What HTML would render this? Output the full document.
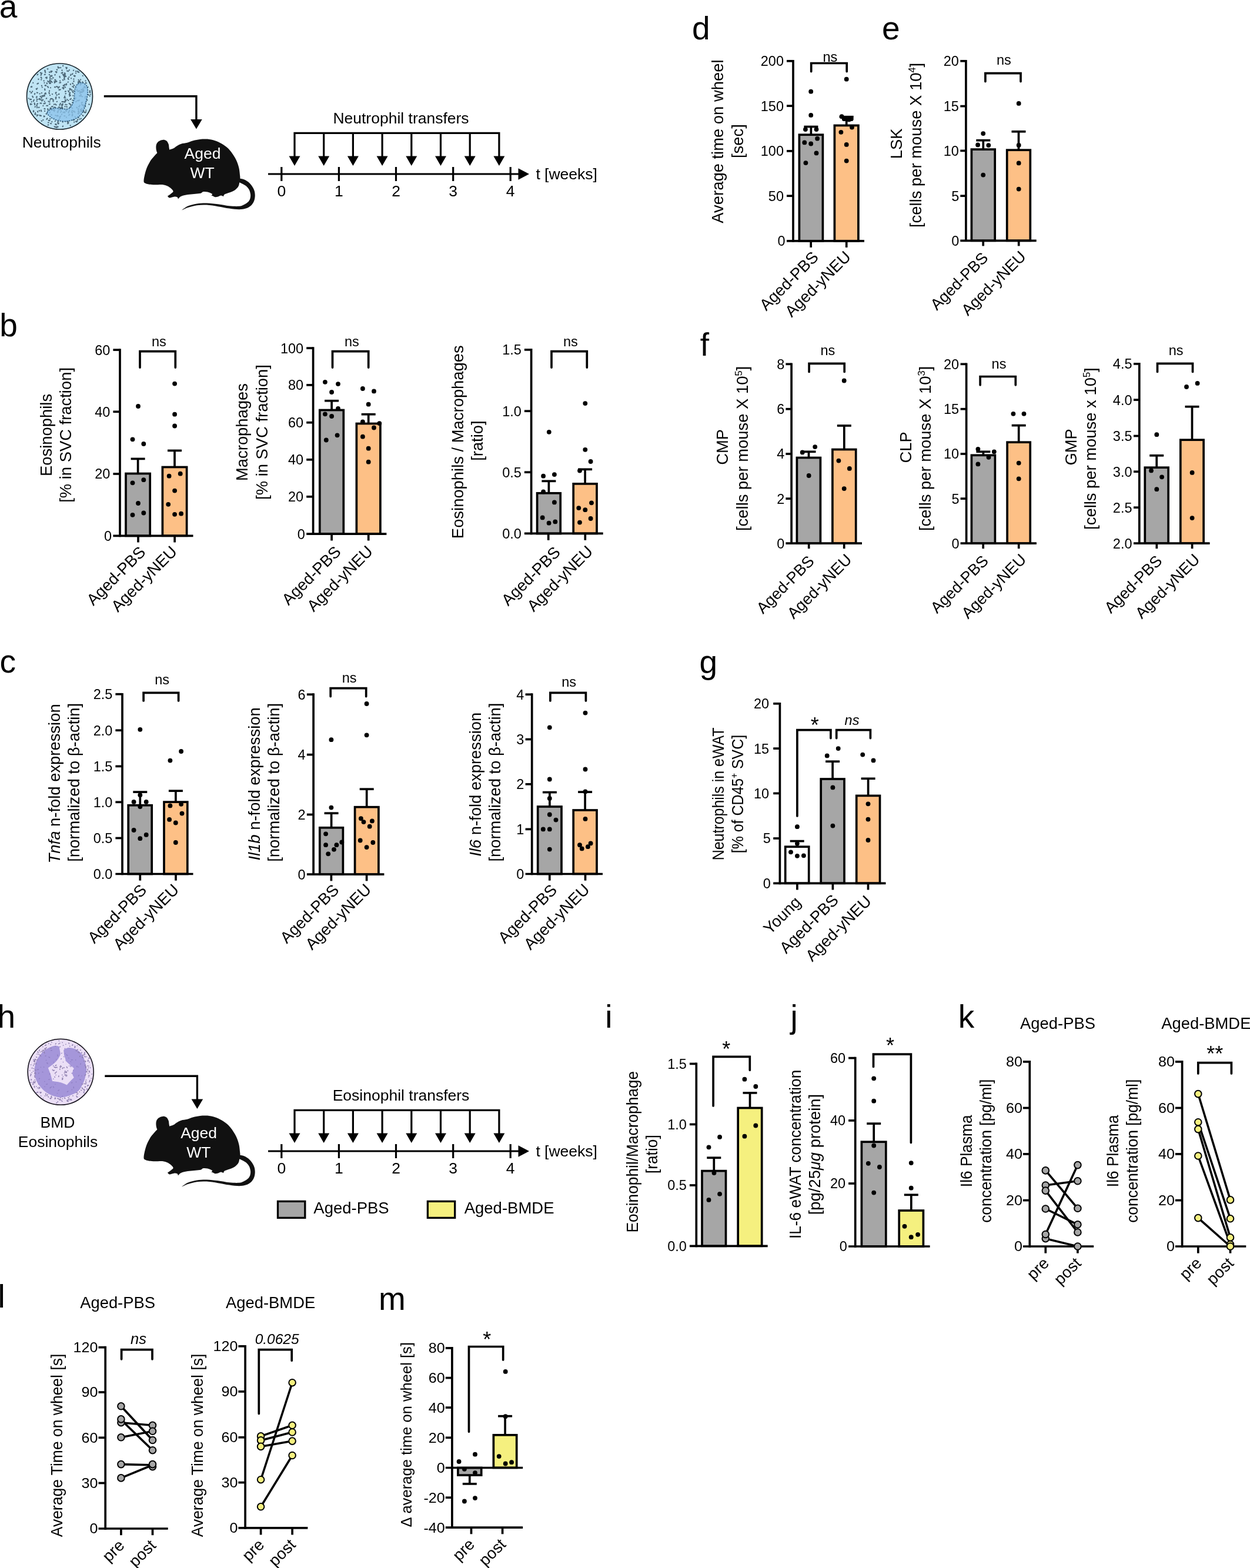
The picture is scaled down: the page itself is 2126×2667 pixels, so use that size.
<!DOCTYPE html>
<html lang="en">
<head>
<meta charset="utf-8">
<title>Figure</title>
<style>
html,body{margin:0;padding:0;background:#fff;}
body{width:2126px;height:2667px;overflow:hidden;}
svg{display:block;}
svg text{font-family:"Liberation Sans",Arial,Helvetica,sans-serif;fill:#000;stroke:none;}
</style>
</head>
<body>
<svg width="2126" height="2667" viewBox="0 0 2126 2667">
<g stroke="#000" stroke-width="3.7" fill="none">
<circle cx="101.5" cy="164" r="56" fill="#bfe4f4" stroke="#16232b" stroke-width="1.6"/>
<path d="M92.3 182.4l-0.1 0.2M108.5 149.3l-0.5 1.9M104.9 179.2l0.1 0.4M130.6 182.6l-0.2 0.1M141.3 150.4l-0.1 0.2M71.9 148.5l-0.2 0M83.4 157.3l0.5 1.9M123.2 183.8l-0.3 0.2M133.4 188.2l0.2 0.1M88.8 160.1l0.4 0.1M62.8 164.9l-0.9 0.8M70.8 145.7l0.2 0.3M93.2 139.1l-0.5 1.9M70.4 164.9l0.3 2M119.6 161.7l0.2 0.8M122.9 194.2l0.2 0M105.2 124l-0.7 0.3M84.7 190.5l0 1.2M116.2 170.8l0.1 0.1M142.7 180.5l-0.5 1.1M94.4 196.1l-0.1 0.2M130.9 152.5l-0.4 1.1M144.8 180.8l0.4 0.2M60.8 194.4l0 0.4M64.2 176.3l-1.1 0.4M119.8 142.9l0.2 0.8M88.1 134.2l0.1 0.1M112.9 186.8l0.9 0.8M112.5 144.2l0.3 0.3M73.4 179.7l-0.1 0.4M87.6 128.6l-0.1 0.2M53.8 177.3l-2 0.3M75.4 184.9l1.1 0.4M114.2 169.2l0.3 0.2M133.1 190.2l1.9 0.6M111.3 177.7l0.1 0.2M123.3 174.3l0.3 0.7M141 152.6l0 0.2M132.2 121.1l0.1 1.2M93.9 182.6l-0.6 0.6M57.8 169.9l0 0.4M138.2 152.3l1.8 0.9M141.1 140.3l0.1 0.2M92.5 138.4l0.2 0.4M86.1 183.7l-0.3 2M89.5 186l-0.3 0.2M118 119l-0.3 0.3M113 199.4l-0.1 0.1M110.6 128.7l1.6 1.1M135.6 154.4l-0.8 0.2M132.2 155.1l0.3 0.3M71.2 169.8l0.1 2M121.2 133.1l-0.1 0.2M110.8 148.2l0.1 0.4M79.3 167.1l-0.6 0.5M145.6 190.7l-0.8 0.9M59.5 193.9l-0.3 0.3M110.3 163.6l-0.3 1.2M108.5 145l-1 0.6M84.2 137.8l-0.1 0.4M148.4 170.3l-0.1 0.2M51 155.5l0.1 0.4M112.7 142.4l0.6 0.6M55.2 163.7l1 1.7M84.7 173.3l-0.8 0.2M136 138.1l-1.7 1.1M56.9 188.3l0 2M123.4 194.9l-0.4 0.2M65.2 134.6l0.4 0.2M57 171.5l-0.1 0.8M85.6 128.8l0 0.2M110.9 155.5l0.2 0.1M106.7 126.6l0 0.2M62.6 178.5l0 2M110.2 190.5l0 1.2M75.1 162.7l-0.1 0.8M145.8 140.6l1 0.7M113.5 178l0 0.2M85 133.5l0.6 0.5M112.1 114.9l0.7 0.4M132.5 203l-0.4 0M101.1 147.7l-0.4 0.1M149.7 160.9l1 0.6M135.1 162.7l0.2 0.8M82.7 204.9l2 0.1M58.5 175.4l0.7 1.9M74.5 137.4l0.4 0.1M118.4 161l0.1 0.1M120.2 151.4l-0.9 0.8M127 128.7l-1.2 0.2M131.5 205l-0.2 0.8M112.2 170.8l-0.7 1M123.2 147.2l0.2 0M106.4 149.5l-0.2 0.1M99.8 182.4l2 0.1M57.4 189l-0.1 0.2M76 159.6l0.4 0.1M99.8 186.5l-0.8 0.2M77.9 159.3l0.1 0.4M95.4 211.1l-0.2 0M146.7 168.4l-0.1 0.4M75.3 161.7l0.2 1.2M79.8 131.4l-1.9 0.7M92.8 187l0.3 0.3M123.5 125.3l-0.5 1.1M153.9 160.5l-0.2 0.1M142.7 183.6l0.3 0.3M142.1 178.7l0.7 1.9M88 139.3l0.6 0.6M123.4 170.4l0.1 0.1M97.2 215.8l-2 0.2M97.1 172.8l-0.4 0.1M100.4 165.4l0.4 1.1M93.7 206.2l0.1 0.1M141.8 189.9l1.8 0.9M109.2 166.1l0.2 0.3M146.2 190.3l-0.4 0.2M76.9 126.5l-1.1 0.4M105.5 119.2l0 0.8M94.6 122l2 0.3M69.9 131.4l-0.3 0.2M140.3 139.3l0 0.2M120.2 128.1l-0.4 0.1M110.8 169.5l-0.1 0.2M76 188.9l0.2 0M70.8 132.8l0 0.2M88 167.7l-2 0.4M133.7 185l-0.8 0.9M101.3 178.5l0.3 0.3M106.6 206.4l0.1 1.2M146.3 187.4l0.1 0.2M70 135.5l0.4 0.1M80.5 201.3l-1.1 1.6M96.1 161.6l0.8 0.2M118 161.1l0.9 0.8M91.8 200.8l0.1 1.2M107.2 111.5l-0.1 0.8M152.3 157l1.2 0.1M134.9 181.4l-0.8 0M63 197.1l-0.2 0M84.1 154.2l-0.1 0.8M133.8 199.5l0 0.2M94.1 139.6l-1.1 0.4M84.9 177l-1.2 0.2M64 189.3l0.3 1.2M81.9 208.5l0.8 0M111.2 148.4l-0.2 0M124.7 147.5l0.5 1.1M63.4 195.5l1.2 0.3M103.2 115l0.1 0.2M115.9 139.6l-0.4 0.1M135.9 157.7l0.4 0.7M109.1 130.2l1.2 0.1M145.5 137.4l0 0.2M144.7 177.9l0.1 0.4M84 141.6l2 0.3M126.9 190.1l0.4 0.7M99.8 209.5l-0.6 1.1M85.3 139.9l-0.2 1.2M132.5 193l1.9 0.5M132.5 143.2l0.6 0.5M137 163.2l0.4 0.2M102.3 186.1l-0.1 0.8M103.3 190.9l0 0.2M101.4 129.9l0.5 1.9M108.3 190.7l-0.9 0.8M92.5 215.4l1.8 0.8M55.2 155.4l-0.2 0.1M98 190.2l0.4 1.1M74.6 176.3l-0.2 0.1M125.6 188.8l-0.9 0.8M137.8 156.7l1.9 0.5M133.6 122.8l0.1 0.1M104.9 184.4l-0.2 0M143.5 147.8l-0.5 1.1M141.7 187.8l0.4 0M107 214.5l-0.4 0.7M142.3 154.2l-0.1 1.2M95.8 147.2l2 0.4M123.2 155.9l1.4 1.5M140.3 164.3l-0.8 0M142.6 153.1l-1.1 0.4M62.8 157.6l1.2 0.1M93.2 135.8l1.2 0.1M133.4 135.8l0.4 0.1M76.2 119.7l0.2 0.1M86.5 121.7l0.5 1.1M116.6 208.8l-1.4 1.5M135.5 179.3l0.3 0.2M104.5 188.8l-0.6 0.5M133.9 190.5l-0.1 0.4M51.1 168.7l2 0.4M121.6 190.4l1.6 1.2M109.1 173.4l1.2 0.2M59 177.9l0.1 0.2M152.6 163.2l0.2 0.3M79.4 132.6l0.1 0.8M84.8 136l0.3 0.7M85.1 170.2l0.2 0M70.6 205.6l0.4 0.2M67.6 195.8l0.7 1M139.4 187.3l1.6 1.2M121.9 152.7l0.5 1.1M134.8 170.4l-1 0.7M111.1 166.5l0.2 0M99.5 209.8l-0.8 0.3M81.5 187.3l-0.2 0M98.1 208.7l0.4 0.7M88.3 207l-0.1 0.2M126.8 167.9l0.1 1.2M133.1 154.6l0.8 0.9M109.1 146.3l0 0.2M116.3 120.9l-0.3 0.2M77.8 145.1l0.4 0.7M110.1 124l0 1.2M102 137.6l0.2 0M62.6 168.5l1.1 0.6M140.7 128.8l0.1 0.1M110.4 197.2l-1.2 0M110.5 181.1l0 0.4M100.9 115.2l-0.1 0.2M106.8 135.8l0.5 0.6M69.7 196.6l0.3 0.2M111.6 187.6l1.3 1.5M106.6 176.5l0.3 0.3M76 162.8l-1 0.7M118.4 163l0 0.4M128.8 121.3l0.8 0.1M102.8 175.8l-0.6 1.9M106.5 177.6l0 0.4M75.8 172.5l-0.2 0.1M133.7 189.2l-0.1 0.4M131.5 171.2l0.8 0.1M145.5 174.8l-0.2 0.1M115.7 133.2l0.8 1.8M92.4 186.1l-1.6 1.2M67.8 167.5l-1.6 1.2M123.3 196l-0.6 1.1M90.1 132l0.5 0.6M91 169.9l-0.6 0.6M95.3 167.7l-0.6 0.5M81.1 137.9l0.1 0.2M82.3 172.4l0.2 0.1M60.1 191.7l0 0.4M109.7 172.8l1.1 0.5M136.9 186.2l0.8 1.8M116.3 191.6l0.3 0.2M117.1 156.1l0 0.4M86 210l1.2 0.2M85.2 202l-0.1 0.2M135.9 140.4l-0.3 0.2M70.3 126.1l-0.7 1.9M128.9 124.3l0.3 0.2M151.1 177.3l0.7 0.4M120.3 182.4l-0.3 0.3M139.9 174.1l-0.1 0.1M86.6 137.7l0.4 1.1M61.6 151l0.7 1M92 188.7l0.3 0.8M68.3 175.5l2 0.1M137.5 160.9l0.3 2M108.2 128.8l1 0.6M90.4 172l0.3 0.7M131 183.2l0 0.2M120 168.8l-0.8 0.2M108 126.7l2 0.3M135.3 137.7l-0.2 0.1M134.4 122.6l-0.1 0.1M119.7 213.3l0 0.4M83.9 122.6l0.6 0.5M81 147l1.1 1.7M94 211.3l1.8 0.9M137.3 155.8l-0.6 1.9M71.6 162.9l0.4 0M66.7 188.1l0.5 0.6M118.7 150.7l-0.2 0.1M102.8 152.4l-1.1 0.5M63.5 150.3l-0.2 0.1M101 202.8l-0.7 0.3M96.6 216.5l-0.2 0.8M94.1 177.2l1.5 1.3M101 152.4l-0.7 0.4M82.3 212.4l-0.7 0.3M96.6 118.4l0.6 0.5M75.5 140.8l0 0.2M118.5 182.6l-0.1 0.2M139.1 177.4l1.2 1.6M85.8 183.6l-0.5 1.9M122.9 187.9l-0.3 0.2M135.5 202.4l0.3 0.3M88.7 168.1l0.7 0.4M79.2 179.7l2 0.1M133.4 138.5l-0.5 1.9M143.4 146.5l0.1 0.1M138.7 174.5l0.1 0.4M128.8 206.6l1.9 0.6M52.7 147.8l0.4 0.2M59.3 159.1l-0.5 1.1M110.1 143.6l0.5 0.7M64.3 126.4l-0.8 0.9M100.6 159.9l-1.1 0.6M139 184.8l0.2 0.1M98.4 206.4l0.7 0.3M95 137.5l-0.2 1.2M81.5 117.3l-0.8 0.1M68.8 123.5l1.6 1.3M128.4 166.6l0.3 0.3M144.5 148.4l0.6 1M89.2 186.8l-1.9 0.6M53.8 173.2l-0.1 0.2M59.8 181.3l-0.2 0.8M109.6 131.8l-0.5 1.9M118.6 153.3l0.2 0M86.1 149.2l-0.2 0M120.8 167.8l-0.1 0.2M86.6 121l2 0.4M103.2 140.4l-2 0.3M112 155.4l-1.1 0.5M120.3 179l0.2 0.1M149.5 148.1l-0.1 0.1M120.6 126.5l0.1 0.2M133.2 198.9l-0.4 0.7M87 195.3l0.8 0.1M112 159l-0.6 0.5M106.4 123.2l0.1 0.8M94.6 157.7l0.3 1.2M85 162.1l0 0.2M77.5 158.2l-0.2 0.1M76.1 151.2l0.4 2M115.2 208.2l-0.2 0M92 177.4l-0.2 0.3M141.4 155.6l-2 0.3M98.1 215.4l0.3 0.3M125.1 154.4l0.2 0.1M48.8 167.2l0 0.2M79.6 141.2l0.4 1.1M137.1 135.2l0 0.2M81.2 185l0.4 1.9M68.8 163.8l-0.4 0.1M119.2 157.5l-0.6 1.9M82.5 139.1l0.2 0.3M125.5 137.8l-0.1 0.8M118.5 194.7l-1.5 1.3M105.1 194.4l-0.2 0.4M74.1 162.7l-1.4 1.4M113.3 181.3l0.6 0.6M76.5 145.1l0.3 0.3M98.7 215.7l-0.4 0M117.9 160l0.1 0.4M114.1 120.4l0.1 0.4M140.6 196.1l0.8 0.9M95.7 165.3l-1.1 0.5M88.4 128.8l-0.5 1.1M128.1 167.7l-0.1 0.1M98.6 113.6l0.4 2M65.1 141.7l-1.8 0.9M127.7 129l-0.5 1.1M76.9 175.1l-0.7 1M103.1 197.5l-0.2 0.3M101.5 198.5l0.3 2M125.5 134.4l-0.2 0.3M125.4 145.3l1.2 0M116 154.6l0.3 0.3M126.4 203.7l-2 0.4M73.3 203.8l0.1 0.4M93.7 126.9l-0.3 0.7M67.8 159.4l-0.4 0.1M124.2 162.6l0 0.2M96 122.8l-0.3 0.7M96.4 197.1l1.2 0.1M137.7 142.7l-1 1.7M99.1 189l-1.4 1.5M153.5 154.6l-1.2 0.1M106 182.5l-0.3 0.3M62.5 171.6l0.3 0.3M75.9 197.8l-1 0.6M73.3 169.7l-0.1 0.4M108.3 128.3l-0.3 0.3M97.9 196.3l0.8 0.9M85.6 130.8l-0.7 0.5M74.6 197.4l0.6 1M63.4 182.4l-0.4 0.7M118.2 187.9l0.1 0.2M125.2 119.5l-0.3 0.3M70.9 158l-0.1 0.2M105 177.8l1.2 1.6M117.6 175.9l0.9 0.8M89.7 181l-1.9 0.6M126.2 207.5l-0.1 0.2M76.9 120.3l-0.6 0.5M115.8 205.7l-0.1 1.2M92.9 148l1.1 0.4M103.4 183.7l0 0.2M51.3 168.9l-0.2 0.3M62.6 164.4l-0.2 0.1M117.5 189.4l-0.7 1M76.8 122.1l0.5 1.1M145.1 164l0.7 0.4M95.6 157.2l-0.3 0.8M107.3 148.8l0 0.4M145.4 173.5l-0.3 0.7M137.2 188.1l1 1.8M53.8 147.1l0.5 0.6M66.6 182.5l-0.7 0.4M78.6 193.4l0.4 0.7M123.2 141.7l1 0.7M109.4 134.6l0.4 0.7M137.8 201.6l0.2 0.1M69.7 187.4l0.6 1.9M129.1 172.9l0.4 0M117.4 131.1l-0.1 0.1M113.8 115l-0.7 1.9M127.7 198.7l-0.1 0.2M111.6 206.1l0.1 0.4M119.6 177.4l0.2 0M138.3 141.9l0.2 0.4M110.5 125.3l0.6 0.6M105.4 173l2 0.1M69.3 124.2l2 0.3M53.8 157.3l-0.9 0.8M56.3 140.8l0 0.2M84.1 127l-0.4 0M67.9 169.2l1.1 0.4M106.3 184.1l0.2 0M144.8 166.5l-0.2 0M105.1 182.1l0.1 0.8M96.5 138.4l-0.3 0.3M129.8 149l-0.3 0.3M99.5 148.7l-0.5 1.1M51.9 176.5l0.1 0.1" stroke="#4d6878" stroke-width="2.1" stroke-linecap="round"/>
<path d="M80.3 191C79.5 193.5 83.1 196.7 85.8 198.9C88.6 201.1 92.4 203.2 97 204.5C101.7 205.7 108.2 207 113.8 206.3C119.4 205.7 126 203.4 130.5 200.8C135 198.1 138.1 195 140.8 190.5C143.4 186 145 179.4 146.3 173.8C147.7 168.2 149 161.7 149.1 157C149.3 152.4 148.8 148.6 147.3 145.8C145.7 143.1 142.3 141.3 139.8 140.7C137.3 140.2 134.4 141 132.4 142.6C130.4 144.2 128.7 146.9 127.7 150.5C126.7 154.1 127 160.1 126.3 164.5C125.6 168.8 125.2 173.1 123.5 176.6C121.9 180 119.7 183.5 116.6 184.9C113.4 186.3 108.8 185.1 104.5 184.9C100.1 184.8 94.5 183 90.5 184C86.5 185 81 188.5 80.3 191Z" fill="#8cc3eb" stroke="#2a587c" stroke-width="1.5" stroke-dasharray="2.4 1.5" fill-opacity="0.78"/>
<text x="104.7" y="251" text-anchor="middle" font-size="26.5">Neutrophils</text>
<path d="M176.8 163.8H333.9V205.6" stroke-width="3.4"/>
<path d="M324.1 203.1L343.7 203.1L333.9 219.6Z" fill="#000" stroke="none" stroke="none"/>
<path d="M244.5 308.3C244.4 306.1 245.1 301.9 246 298.1C246.9 294.2 248.1 289.4 249.8 285.3C251.5 281.1 254 276.6 256.2 273.1C258.5 269.6 261.7 266.3 263.5 264.2C265.4 262 266.7 261 267.4 260.3C267.1 259.2 265.8 256.3 265.6 253.9C265.3 251.6 265.2 248.5 265.8 246.2C266.5 244 267.9 241.9 269.7 240.5C271.5 239.1 274.5 238.1 276.7 237.9C279 237.7 281.5 238.3 283.1 239.5C284.8 240.6 285.8 243 286.6 245C287.3 246.9 287.3 249.7 287.6 251.4C287.9 253 288.1 254.2 288.2 254.8C289.3 254.4 292.5 253.7 294.6 252.6C296.8 251.5 298.8 249.5 301 248.2C303.3 246.8 305.2 245.6 308.1 244.7C310.9 243.8 314.9 243.7 318.3 242.8C321.7 241.9 324.9 240.2 328.5 239.2C332.2 238.2 336 237.3 340.1 236.9C344.1 236.5 348.6 236.3 352.9 236.6C357.1 237 361.6 237.9 365.7 239.2C369.7 240.5 373.4 242.3 377.2 244.6C380.9 246.8 384.9 249.6 388.1 252.6C391.3 255.7 393.9 259.2 396.4 262.9C398.8 266.5 401.1 270.4 402.8 274.4C404.5 278.3 405.7 282.4 406.6 286.6C407.5 290.7 407.8 296.5 408.2 299.3C408.5 302.2 408.5 303.1 408.5 303.8C409.7 304.1 412.9 304.2 415.6 305.5C418.2 306.8 421.9 308.8 424.5 311.5C427.2 314.2 430 318.4 431.6 321.7C433.1 325.1 433.6 328 433.7 331.3C433.9 334.6 433.3 338.6 432.2 341.6C431.1 344.6 429.4 347.3 427.1 349.5C424.7 351.7 421.5 353.5 418.1 354.6C414.7 355.8 411.3 356.3 406.6 356.3C401.9 356.3 395.9 355.5 390 354.6C384 353.8 377.2 352.2 370.8 351.2C364.4 350.2 357.6 348.9 351.6 348.6C345.6 348.3 340.3 348.5 334.9 349.3C329.6 350 324 351.7 319.6 353.1C315.2 354.6 310.2 357.2 308.3 358C310.2 356.7 315.2 352.5 319.6 350.5C324 348.6 329.6 347.3 334.9 346.4C340.3 345.6 345.6 345.3 351.6 345.4C357.6 345.6 364.4 346.5 370.8 347.3C377.2 348.2 384 349.7 390 350.3C395.9 350.9 402.6 351.1 406.6 350.8C410.7 350.5 411.8 349.7 414.3 348.6C416.7 347.5 419.5 345.8 421.3 344.1C423.1 342.4 424.4 340.5 425.2 338.4C426 336.2 426.3 333.9 426.1 331.3C425.9 328.8 425.1 325.5 423.9 323C422.7 320.6 420.7 318.3 418.8 316.6C416.9 314.9 414.3 313.9 412.4 312.8C410.5 311.7 408.1 310.7 407.3 310.2C406.9 311.4 406.7 315 405.3 317.3C403.9 319.5 401.7 321.9 398.9 323.7C396.2 325.5 391.6 327 388.7 328.1C385.8 329.3 383.1 329.7 381.7 330.7C380.2 331.7 380.3 333.7 380 334.3C379.3 334 377.4 332.6 375.9 332.6C374.4 332.7 372.5 334.1 370.8 334.5C369.1 335 367.2 335.4 365.7 335.2C364.2 335 362.9 333.7 361.8 333.3C360.8 332.8 359.7 332.7 359.3 332.6C359.5 332.2 361.9 330.8 360.8 329.8C359.7 328.8 355.5 327.1 352.9 326.5C350.3 325.9 347.1 325.8 345.2 326.2C343.3 326.6 343.5 328.2 341.3 328.8C339.2 329.4 335.6 329.5 332.4 329.8C329.2 330.1 325.6 330.3 322.1 330.7C318.7 331.1 314.5 331.7 311.9 332.4C309.3 333 308.3 333.5 306.8 334.5C305.3 335.5 303.6 337.7 302.9 338.4C302.7 337.8 302.5 335.8 301.4 335.2C300.3 334.5 298.7 334.3 296.6 334.5C294.4 334.8 290.2 336.6 288.2 336.5C286.3 336.3 285.6 334.1 285 333.6C286.1 332.9 289.8 330.4 291.4 329C293 327.7 294.6 326.9 294.6 325.6C294.6 324.3 293 322.6 291.4 321.1C289.8 319.6 287.6 317.8 285 316.6C282.5 315.5 279.7 314.5 276.1 314.1C272.4 313.7 267.1 314.4 263.3 314.3C259.4 314.2 255.8 313.9 253 313.4C250.3 313 248.1 312.4 246.6 311.5C245.2 310.7 244.6 310.5 244.5 308.3Z" fill="#111" stroke="none" stroke="none"/>
<text x="344.5" y="269.9" text-anchor="middle" font-size="26.5" style="fill:#fff">Aged</text>
<text x="344.2" y="302.7" text-anchor="middle" font-size="26.5" style="fill:#fff">WT</text>
<path d="M456 296H884" stroke-width="3.2"/>
<path d="M881.5 286.2L900 296L881.5 305.8Z" fill="#000" stroke="none" stroke="none"/>
<text x="478.8" y="334.3" text-anchor="middle" font-size="26.5">0</text>
<text x="576.4" y="334.3" text-anchor="middle" font-size="26.5">1</text>
<text x="673.5" y="334.3" text-anchor="middle" font-size="26.5">2</text>
<text x="770.7" y="334.3" text-anchor="middle" font-size="26.5">3</text>
<text x="868.2" y="334.3" text-anchor="middle" font-size="26.5">4</text>
<path d="M478.8 284V308M576.4 284V308M673.5 284V308M770.7 284V308M868.2 284V308" stroke-width="3.2"/>
<text x="911.4" y="304.5" font-size="26.5">t [weeks]</text>
<path d="M499.4 226.3H850.5M501 226.3V268M550.7 226.3V268M600.4 226.3V268M650.1 226.3V268M699.8 226.3V268M749.5 226.3V268M799.2 226.3V268M848.9 226.3V268" stroke-width="3.2"/>
<path d="M491.5 265.5L510.5 265.5L501 282ZM541.2 265.5L560.2 265.5L550.7 282ZM590.9 265.5L609.9 265.5L600.4 282ZM640.6 265.5L659.6 265.5L650.1 282ZM690.3 265.5L709.3 265.5L699.8 282ZM740 265.5L759 265.5L749.5 282ZM789.7 265.5L808.7 265.5L799.2 282ZM839.4 265.5L858.4 265.5L848.9 282Z" fill="#000" stroke="none" stroke="none"/>
<text x="682" y="209.6" text-anchor="middle" font-size="26.5">Neutrophil transfers</text>
<circle cx="103.2" cy="1823.3" r="56" fill="#ebdff6" stroke="#16131d" stroke-width="1.6"/>
<path d="M58.7 1818.1C59.2 1813.9 60 1808.8 61.9 1804.5C63.8 1800.1 67.1 1795.4 70.3 1791.9C73.4 1788.4 76.9 1785.7 80.7 1783.5C84.6 1781.3 89.6 1779.1 93.3 1778.8C97 1778.4 101 1779.9 102.7 1781.4C104.5 1782.9 103.4 1786 103.8 1787.7C104.1 1789.4 103.9 1792.2 104.8 1791.9C105.7 1791.5 106.9 1787.3 109 1785.6C111.1 1783.9 113.7 1781.9 117.4 1781.9C121 1781.9 127.2 1783.4 131 1785.6C134.8 1787.8 138.2 1791.5 140.4 1795C142.7 1798.5 143.5 1802.5 144.6 1806.5C145.7 1810.6 147.2 1814.6 147.2 1819.1C147.2 1823.6 145.7 1829.6 144.6 1833.8C143.5 1838 142.3 1840.6 140.4 1844.2C138.5 1847.9 136.6 1852.6 133.1 1855.8C129.6 1858.9 124.4 1861.3 119.5 1863.1C114.6 1864.9 109 1866.8 103.8 1866.8C98.5 1866.8 92.9 1865.1 88.1 1863.1C83.2 1861.1 78.5 1858.2 74.5 1854.7C70.4 1851.2 66.5 1846.3 64 1842.1C61.4 1838 60.1 1833.6 59.3 1829.6C58.4 1825.6 58.3 1822.3 58.7 1818.1Z" fill="#a596da" stroke="none" stroke="none"/>
<path d="M81.8 1816.5C83.5 1815.2 89.3 1811.3 92.3 1808.6C95.2 1805.9 97.6 1803.1 99.6 1800.3C101.6 1797.5 103.5 1793.3 104.3 1791.9C105.3 1793.6 107.9 1799.4 110.1 1802.4C112.2 1805.3 114.8 1807.2 117.4 1809.7C120 1812.1 124.4 1815.8 125.8 1817C125.3 1818.4 123.1 1822.8 123.1 1825.4C123.1 1828 125.3 1831.5 125.8 1832.7C124.7 1833.8 121.5 1836.9 119.5 1839C117.5 1841.1 114.7 1844.4 113.7 1845.5C111.9 1844.8 106.8 1842.2 102.7 1841.1C98.6 1840 91.4 1839.4 89.1 1839C88.6 1837.1 87.2 1831.2 86 1827.5C84.7 1823.7 82.5 1818.3 81.8 1816.5Z" fill="#ebdff6" stroke="none" stroke="none"/>
<path d="M101.2 1781.4C101.9 1780 106.1 1782.5 107.4 1784.6C108.7 1786.6 108.4 1790.7 109 1794C109.6 1797.3 112.7 1803.1 111.1 1804.5C109.5 1805.8 101 1804.3 99.6 1802.4C98.2 1800.4 102.5 1796.4 102.7 1792.9C103 1789.4 100.4 1782.8 101.2 1781.4Z" fill="#ebdff6" stroke="none" stroke="none"/>
<path d="M70.6 1788.6l0.8 0.2M136.1 1796.2l-0.4 1.1M145.5 1813.8l-0.1 0.4M68.3 1789.2l0.2 0M57.5 1841.2l0 0.8M59.7 1823.4l0.1 0.8M102.1 1869.9l0 0.2M145.6 1843.3l0.2 0.8M63.6 1857.6l-0.2 0.1M115 1873.5l1.2 0.2M148.6 1812.9l0.4 0.1M101.8 1817.9l0.1 1.2M96.7 1875.6l-0.7 0.5M110.7 1823.2l1.7 1.1M100.8 1870.3l0.4 0.7M61.6 1797.9l1.1 0.5M143.8 1797l0.3 0.3M61.4 1808.6l0.4 1.1M111.6 1829.7l-0.4 0M58.5 1847.6l0.1 2M123.8 1863.8l0.4 0.1M115.2 1873.1l-0.1 0.1M144.3 1789.8l-0.9 1.8M110.2 1824.9l-0.8 0.2M110.8 1821.5l-0.5 1.1M153 1837.6l-0.3 0.3M117 1774l0.5 1.1M143.8 1794.2l0.1 0.2M140.7 1844l-1.2 0M57.6 1841.2l1.9 0.5M64.6 1789.5l0.1 0.1M118.6 1779.4l0.3 0.2M54.3 1824.4l-0.2 0.1M131.4 1778.4l0 0.2M68.9 1795.7l0.5 0.6M86 1867.7l0.4 0M112 1776.3l-0.2 0M76.2 1783.5l-0.4 0.1M105.7 1828.3l0 0.2M78 1860.1l-0.1 2M129.3 1786.9l0.9 0.8M144.7 1804.6l1.1 0.5M119.8 1870.9l2 0M57.7 1802.3l-0.6 0.5M116 1866.9l-0.2 0.1M114.8 1872.7l-0.8 0M56.9 1812.4l0.1 0.2M150.6 1831.8l0.2 0M95.1 1774.9l-0.7 1M64.2 1802.2l-0.9 0.8M54.6 1816.3l-0.1 0.8M78.4 1777.3l-1.8 0.8M116 1871l-2 0.2M92.4 1820.6l-1.9 0.5M58.8 1825.8l2 0.4M53.6 1836.4l-1 0.7M123.6 1776.8l0.1 0.8M87.6 1772.8l0.4 0M109.6 1867.2l0.4 0.7M94.2 1779.4l-0.2 0.1M100.5 1775.2l-0.8 0.2M63 1792.8l0.3 0.2M106.3 1868.8l0.1 0.1M55.6 1844l-0.1 0.4M73.6 1867.8l-0.2 0.1M95 1824.2l-1.5 1.4M117.2 1870.3l-0.2 0M96 1815.2l1 0.7M59.2 1836.4l0.1 0.4M145.5 1848.2l-1.1 0.5M137.6 1854.1l1.1 0.6M143.9 1853.2l-2 0.1M56.6 1821.9l-0.1 0.2M50.7 1820.7l0 0.2M72.1 1786.6l1.9 0.5M77.6 1777.7l0.1 0.4M63.5 1857.9l-1.8 0.9M93.3 1815l-1.2 0.2M142.6 1804.6l-0.1 0.1M140.3 1795.5l0.8 0.1M148.8 1846l0.3 1.2M103 1869.8l0.2 0M145.2 1805.8l0 0.4M106.8 1835l0 0.2M75 1789.3l0.8 1.8M68.1 1794.3l-0.2 0.3M72.1 1788.8l0.3 0.2M118 1865l-0.1 0.2M89.3 1819.6l0.4 0.1M101.7 1774.3l0.2 0M57.4 1839.1l-0.3 0.2M59.8 1839.1l0.1 0.4M59.2 1809.4l-1.2 0.3M59.3 1803.3l0 0.2M88.1 1866.3l-0.5 0.7M139.5 1797.8l1.3 1.5M149.6 1803.1l0.6 0.6M107.2 1816l-1.1 1.7M59.3 1804.7l-0.3 2M106.1 1773.2l0.1 0.2M105.6 1835.9l0.7 0.4M145.5 1814.3l-0.2 0.1M99.9 1831.2l-0.1 0.2M102.1 1780.2l0.3 0.3M52.4 1826.8l0.6 1M146.2 1814.6l0 2M94.8 1815.5l-0.6 0.6M132.3 1785.1l-1 0.6M144.6 1812.1l0 0.2M100.3 1770.1l0.2 0.4M131.9 1865.8l-1.2 0.3M56 1841.3l0.2 0.8M66.9 1786.2l-0.1 0.8M145 1811.4l-0.2 0.1M152.8 1839.3l-1 0.7M150.4 1816.1l-0.2 0.1M70.2 1857.8l-1.2 1.6M143.6 1797l1.8 0.8M130.7 1861.4l0.4 0M97.6 1868.2l1.1 0.4M95.9 1823l0.3 0.2M130 1864.1l0.4 0.7M146.9 1822.5l0.2 0M150.9 1813.2l-0.1 0.2M132.8 1789.2l0.1 0.8M156.4 1826.8l-0.3 0.2M67.3 1786l-0.6 0.6M155.3 1834l0 0.2M76.8 1864l-0.4 0.1M75.1 1785.9l-1 0.6M52.2 1828.9l-0.5 1.1M139.4 1850.5l1.4 1.4M131.7 1858.4l-2 0.1M148.2 1822.8l-2 0.4M98.6 1874.1l-0.8 0M59.6 1801.5l1.7 1.1M64.4 1850.3l-0.4 0.1M87.7 1864.3l-0.8 0.9M95 1828.4l0 0.2M96.7 1815.2l-0.2 0.3M144 1792.4l-0.2 1.2M152.2 1821.6l-1.1 0.5M142.2 1857.5l1 1.7M56.9 1844.3l0.1 0.2M82.5 1866.1l-0.2 0.1M105 1872.4l0.9 0.8M143.5 1854.7l-0.2 1.2M149.9 1804.9l-0.8 0M52.5 1811.1l0.4 0M102.1 1815.1l1 0.6M141.4 1793.7l0.3 0.8M132.6 1860.2l-0.3 0.3M117.8 1870.7l-0.1 0.2M119.7 1869.4l0.5 1.1M145.7 1827.6l-1.2 1.6M121.3 1870.1l0.2 0M86.6 1868.7l-0.8 0.1M134.1 1790.3l1.1 0.5M153.4 1816l0.3 0.2M148 1851.7l0.4 2M148.8 1846.1l2 0M93.1 1868.7l0.6 0.6M102.3 1814.3l-0.3 0.2M113 1822.5l0.2 2M64.6 1857.5l0 0.4M146.6 1841.8l-0.8 0.2M77.4 1783.6l-0.1 2M149.2 1818.5l-0.2 2M59.5 1840.5l-0.3 0.2M115.3 1821l0.1 0.4M66 1793l0 0.8M109.1 1815.9l0.4 0.1M144.4 1848.9l0.7 0.4M59.5 1832.5l-0.1 0.2M135.4 1856.9l-0.1 0.4M102.9 1812.7l1.5 1.4M112 1827.9l-2 0M53.1 1835.7l0.3 0.7M151.8 1806.3l0.3 0.3M86.3 1776.5l-0.1 0.4M52.8 1840.7l-0.6 1M143.2 1842.9l0.3 0.7M146 1839.4l-0.3 0.3M107.7 1778l-0.2 0.1M152.2 1822.7l0.2 1.2M81.9 1865.1l0 0.2M59.1 1829.3l-0.1 2M100.3 1868.8l-0.2 0.3M138.9 1789.9l-0.1 1.2M105.6 1833.8l1.2 0.1M59.2 1803.9l-0.8 0.1M95.9 1811.6l-1.8 0.9M87 1782.8l-0.8 0.1M93 1831.5l0.3 0.7M93.6 1867.1l0.9 0.8M117.2 1868.1l0.2 0.4M57.5 1817.4l-0.4 0.1M146.9 1797.3l0.2 0.1M68 1857.6l0.5 0.6M123.3 1777.1l-0.5 1.1M64.1 1788.7l0.8 1.8M113.6 1828.6l-0.3 2M127.3 1779.3l0.4 1.1M69.4 1864l0.4 0.2M150.7 1799.7l2 0M58 1805.1l-0.8 0.1M150.9 1829.1l1 0.7M82.9 1774.9l-0.3 0.2M81.1 1861.8l-0.7 0.5M139.2 1850.2l1.1 0.4M59.3 1819.9l2 0.3M136.5 1786.1l0.8 0.1M66.5 1850.9l-0.5 0.7M79.8 1863.6l-0.4 0.2M126.6 1781.5l1.1 0.5M72.8 1780.2l0 0.4M102.7 1866.9l0.1 0.4M146.3 1836.9l0.2 0.1M56.7 1811.8l0.1 0.2M127.8 1780.4l0.2 0.1M85.8 1867.9l-0.7 0.4M110.7 1868.1l0.1 0.4M99.9 1829.9l-0.1 0.4M149.9 1825.4l-0.1 0.2M61.9 1847.9l0.1 0.2M103.4 1871.3l0 0.2M107.2 1831.1l0.2 0.1M113.5 1814.5l0.8 1.8M79.1 1781.9l-0.9 0.8M66.5 1849.2l1.4 1.4" stroke="#8e7fae" stroke-width="1.5" stroke-linecap="round"/>
<path d="M139.1 1829.9l-0.2 0M117.9 1812.8l0 0.4M90.7 1834.9l0.3 0.3M84.1 1835.8l-1.1 0.5M120.2 1805.6l0.3 0.3M123.3 1802.6l-2 0.2M100.6 1854l-1.7 1.1M87.6 1848.7l-1 0.6M95.6 1801.6l0 0.4M110.9 1791.8l0 0.2M122.7 1841.3l-1 0.6M85.4 1849.7l-0.1 1.2M129.5 1840.2l-0.1 0.4M74.5 1814.9l0.2 0.3M97.9 1794l0 0.2M139.5 1843.5l-0.2 0M106.5 1864.4l-1 0.6M91.3 1806.7l-0.2 0M113.1 1794l1.6 1.2M107.4 1806.3l0.1 0.4M135.6 1835.8l1.8 0.9M67.4 1834.1l-0.8 0.9M97.7 1859.6l-0.2 0.1M72.1 1823.4l0.8 0.2M63.8 1819.5l0 0.2M105.2 1791.1l-0.5 0.6M117.3 1799.6l-0.8 0M133.3 1814.9l0.2 0.1M90.4 1848.2l1.2 1.6M64.6 1818.9l0.7 0.4M137.4 1809.1l-0.7 1M66.1 1843.5l-0.6 0.5M122.3 1853.3l-0.2 0.4M104.5 1800.6l-0.8 0.9M124.9 1820.5l-0.2 0.1M93.9 1844.1l0.2 0.1M75.9 1839.4l-0.1 0.2M81.2 1809.3l-0.2 0.1M88.4 1786.6l-2 0.2M90.8 1812.5l-0.1 0.8M130.9 1814.5l0.2 0.4M82.9 1797.9l1.8 0.9M75.9 1848.1l0.3 0.2M78.6 1803.3l-0.2 0.1M80.7 1843.9l-1.9 0.5M128.7 1802.6l0.1 0.4M66.2 1824.8l-0.7 1M80.8 1807.9l-1.2 0.1M131.2 1813.3l-0.4 0.1M84.8 1826l-0.4 1.1M125.2 1848.6l0.1 2M108.5 1797.3l0.3 0.3M98.1 1795.2l0 1.2M122.1 1825.2l0.5 0.6M134.4 1828.6l-1.1 1.7M115.9 1856l-1.6 1.1M78.2 1795.9l-1.2 0.3M110.6 1783.2l-0.5 1.1M120.4 1812.5l0.1 2M69.3 1815.1l0 0.2" stroke="#8c7cc0" stroke-width="1.3" stroke-linecap="round"/>
<text x="98" y="1917.5" text-anchor="middle" font-size="26.5">BMD</text>
<text x="98.5" y="1950.5" text-anchor="middle" font-size="26.5">Eosinophils</text>
<path d="M178.3 1830.2H335.4V1872" stroke-width="3.4"/>
<path d="M325.6 1869.5L345.2 1869.5L335.4 1886Z" fill="#000" stroke="none" stroke="none"/>
<path d="M244.5 1969.3C244.4 1967.1 245.1 1962.9 246 1959.1C246.9 1955.2 248.1 1950.4 249.8 1946.3C251.5 1942.1 254 1937.6 256.2 1934.1C258.5 1930.6 261.7 1927.3 263.5 1925.2C265.4 1923 266.7 1922 267.4 1921.3C267.1 1920.2 265.8 1917.3 265.6 1914.9C265.3 1912.6 265.2 1909.5 265.8 1907.2C266.5 1905 267.9 1902.9 269.7 1901.5C271.5 1900.1 274.5 1899.1 276.7 1898.9C279 1898.7 281.5 1899.3 283.1 1900.5C284.8 1901.6 285.8 1904 286.6 1906C287.3 1907.9 287.3 1910.7 287.6 1912.4C287.9 1914 288.1 1915.2 288.2 1915.8C289.3 1915.4 292.5 1914.7 294.6 1913.6C296.8 1912.5 298.8 1910.5 301 1909.2C303.3 1907.8 305.2 1906.6 308.1 1905.7C310.9 1904.8 314.9 1904.7 318.3 1903.8C321.7 1902.9 324.9 1901.2 328.5 1900.2C332.2 1899.2 336 1898.3 340.1 1897.9C344.1 1897.5 348.6 1897.3 352.9 1897.6C357.1 1898 361.6 1898.9 365.7 1900.2C369.7 1901.5 373.4 1903.3 377.2 1905.6C380.9 1907.8 384.9 1910.6 388.1 1913.6C391.3 1916.7 393.9 1920.2 396.4 1923.9C398.8 1927.5 401.1 1931.4 402.8 1935.4C404.5 1939.3 405.7 1943.4 406.6 1947.6C407.5 1951.7 407.8 1957.5 408.2 1960.3C408.5 1963.2 408.5 1964.1 408.5 1964.8C409.7 1965.1 412.9 1965.2 415.6 1966.5C418.2 1967.8 421.9 1969.8 424.5 1972.5C427.2 1975.2 430 1979.4 431.6 1982.7C433.1 1986.1 433.6 1989 433.7 1992.3C433.9 1995.6 433.3 1999.6 432.2 2002.6C431.1 2005.6 429.4 2008.3 427.1 2010.5C424.7 2012.7 421.5 2014.5 418.1 2015.6C414.7 2016.8 411.3 2017.3 406.6 2017.3C401.9 2017.3 395.9 2016.5 390 2015.6C384 2014.8 377.2 2013.2 370.8 2012.2C364.4 2011.2 357.6 2009.9 351.6 2009.6C345.6 2009.3 340.3 2009.5 334.9 2010.3C329.6 2011 324 2012.7 319.6 2014.1C315.2 2015.6 310.2 2018.2 308.3 2019C310.2 2017.7 315.2 2013.5 319.6 2011.5C324 2009.6 329.6 2008.3 334.9 2007.4C340.3 2006.6 345.6 2006.3 351.6 2006.4C357.6 2006.6 364.4 2007.5 370.8 2008.3C377.2 2009.2 384 2010.7 390 2011.3C395.9 2011.9 402.6 2012.1 406.6 2011.8C410.7 2011.5 411.8 2010.7 414.3 2009.6C416.7 2008.5 419.5 2006.8 421.3 2005.1C423.1 2003.4 424.4 2001.5 425.2 1999.4C426 1997.2 426.3 1994.9 426.1 1992.3C425.9 1989.8 425.1 1986.5 423.9 1984C422.7 1981.6 420.7 1979.3 418.8 1977.6C416.9 1975.9 414.3 1974.9 412.4 1973.8C410.5 1972.7 408.1 1971.7 407.3 1971.2C406.9 1972.4 406.7 1976 405.3 1978.3C403.9 1980.5 401.7 1982.9 398.9 1984.7C396.2 1986.5 391.6 1988 388.7 1989.1C385.8 1990.3 383.1 1990.7 381.7 1991.7C380.2 1992.7 380.3 1994.7 380 1995.3C379.3 1995 377.4 1993.6 375.9 1993.6C374.4 1993.7 372.5 1995.1 370.8 1995.5C369.1 1996 367.2 1996.4 365.7 1996.2C364.2 1996 362.9 1994.7 361.8 1994.3C360.8 1993.8 359.7 1993.7 359.3 1993.6C359.5 1993.2 361.9 1991.8 360.8 1990.8C359.7 1989.8 355.5 1988.1 352.9 1987.5C350.3 1986.9 347.1 1986.8 345.2 1987.2C343.3 1987.6 343.5 1989.2 341.3 1989.8C339.2 1990.4 335.6 1990.5 332.4 1990.8C329.2 1991.1 325.6 1991.3 322.1 1991.7C318.7 1992.1 314.5 1992.7 311.9 1993.4C309.3 1994 308.3 1994.5 306.8 1995.5C305.3 1996.5 303.6 1998.7 302.9 1999.4C302.7 1998.8 302.5 1996.8 301.4 1996.2C300.3 1995.5 298.7 1995.3 296.6 1995.5C294.4 1995.8 290.2 1997.6 288.2 1997.5C286.3 1997.3 285.6 1995.1 285 1994.6C286.1 1993.9 289.8 1991.4 291.4 1990C293 1988.7 294.6 1987.9 294.6 1986.6C294.6 1985.3 293 1983.6 291.4 1982.1C289.8 1980.6 287.6 1978.8 285 1977.6C282.5 1976.5 279.7 1975.5 276.1 1975.1C272.4 1974.7 267.1 1975.4 263.3 1975.3C259.4 1975.2 255.8 1974.9 253 1974.4C250.3 1974 248.1 1973.4 246.6 1972.5C245.2 1971.7 244.6 1971.5 244.5 1969.3Z" fill="#111" stroke="none" stroke="none"/>
<text x="338.1" y="1936.3" text-anchor="middle" font-size="26.5" style="fill:#fff">Aged</text>
<text x="337.8" y="1969.1" text-anchor="middle" font-size="26.5" style="fill:#fff">WT</text>
<path d="M456 1958H884" stroke-width="3.2"/>
<path d="M881.5 1948.2L900 1958L881.5 1967.8Z" fill="#000" stroke="none" stroke="none"/>
<text x="478.8" y="1996.3" text-anchor="middle" font-size="26.5">0</text>
<text x="576.4" y="1996.3" text-anchor="middle" font-size="26.5">1</text>
<text x="673.5" y="1996.3" text-anchor="middle" font-size="26.5">2</text>
<text x="770.7" y="1996.3" text-anchor="middle" font-size="26.5">3</text>
<text x="868.2" y="1996.3" text-anchor="middle" font-size="26.5">4</text>
<path d="M478.8 1946V1970M576.4 1946V1970M673.5 1946V1970M770.7 1946V1970M868.2 1946V1970" stroke-width="3.2"/>
<text x="911.4" y="1966.5" font-size="26.5">t [weeks]</text>
<path d="M499.4 1888.3H850.5M501 1888.3V1930M550.7 1888.3V1930M600.4 1888.3V1930M650.1 1888.3V1930M699.8 1888.3V1930M749.5 1888.3V1930M799.2 1888.3V1930M848.9 1888.3V1930" stroke-width="3.2"/>
<path d="M491.5 1927.5L510.5 1927.5L501 1944ZM541.2 1927.5L560.2 1927.5L550.7 1944ZM590.9 1927.5L609.9 1927.5L600.4 1944ZM640.6 1927.5L659.6 1927.5L650.1 1944ZM690.3 1927.5L709.3 1927.5L699.8 1944ZM740 1927.5L759 1927.5L749.5 1944ZM789.7 1927.5L808.7 1927.5L799.2 1944ZM839.4 1927.5L858.4 1927.5L848.9 1944Z" fill="#000" stroke="none" stroke="none"/>
<text x="682" y="1871.6" text-anchor="middle" font-size="26.5">Eosinophil transfers</text>
<rect x="472.5" y="2043.4" width="46.3" height="28" fill="#a6a6a6" stroke-width="3.3"/>
<text x="533.3" y="2064.3" font-size="27.5">Aged-PBS</text>
<rect x="727.4" y="2043.4" width="46.3" height="28" fill="#f5f07f" stroke-width="3.3"/>
<text x="789.7" y="2064.3" font-size="27.5">Aged-BMDE</text>
<line x1="234.6" y1="780.4" x2="234.6" y2="805.5"/>
<line x1="222.6" y1="780.4" x2="246.6" y2="780.4"/>
<rect x="214" y="805.5" width="41.2" height="105.9" fill="#a6a6a6"/>
<line x1="297" y1="766.4" x2="297" y2="794.5"/>
<line x1="285" y1="766.4" x2="309" y2="766.4"/>
<rect x="276.4" y="794.5" width="41.2" height="116.8" fill="#fdc086"/>
<path d="M204 593.3V913.2"/>
<line x1="192.4" y1="911.4" x2="328.5" y2="911.4"/>
<line x1="192.4" y1="595.1" x2="204" y2="595.1"/>
<text x="187.4" y="603.5" text-anchor="end" font-size="23.5">60</text>
<line x1="192.4" y1="700.3" x2="204" y2="700.3"/>
<text x="187.4" y="708.7" text-anchor="end" font-size="23.5">40</text>
<line x1="192.4" y1="806" x2="204" y2="806"/>
<text x="187.4" y="814.4" text-anchor="end" font-size="23.5">20</text>
<text x="190.1" y="919.8" text-anchor="end" font-size="23.5">0</text>
<line x1="235" y1="911.4" x2="235" y2="922.5"/>
<line x1="297.1" y1="911.4" x2="297.1" y2="922.5"/>
<circle cx="235" cy="691" r="3.9" fill="#000" stroke="none"/>
<circle cx="225.5" cy="747.3" r="3.9" fill="#000" stroke="none"/>
<circle cx="244.3" cy="755" r="3.9" fill="#000" stroke="none"/>
<circle cx="244.3" cy="816.2" r="3.9" fill="#000" stroke="none"/>
<circle cx="225.5" cy="821.3" r="3.9" fill="#000" stroke="none"/>
<circle cx="235" cy="856" r="3.9" fill="#000" stroke="none"/>
<circle cx="244.3" cy="872.5" r="3.9" fill="#000" stroke="none"/>
<circle cx="225.5" cy="875.8" r="3.9" fill="#000" stroke="none"/>
<circle cx="297.1" cy="652.6" r="3.9" fill="#000" stroke="none"/>
<circle cx="297.1" cy="704.7" r="3.9" fill="#000" stroke="none"/>
<circle cx="297.1" cy="724.5" r="3.9" fill="#000" stroke="none"/>
<circle cx="306.7" cy="805.7" r="3.9" fill="#000" stroke="none"/>
<circle cx="287.6" cy="809.7" r="3.9" fill="#000" stroke="none"/>
<circle cx="297.1" cy="834.6" r="3.9" fill="#000" stroke="none"/>
<circle cx="286.2" cy="857.8" r="3.9" fill="#000" stroke="none"/>
<circle cx="297.1" cy="874.8" r="3.9" fill="#000" stroke="none"/>
<circle cx="308.1" cy="873.7" r="3.9" fill="#000" stroke="none"/>
<path d="M238 625.1V597.7H298.3V625.1" stroke-linecap="round"/>
<text x="270.4" y="589.1" text-anchor="middle" font-size="23.5">ns</text>
<text transform="translate(87.7 739.9) rotate(-90)" text-anchor="middle" font-size="27.4">Eosinophils</text>
<text transform="translate(121.4 739.9) rotate(-90)" text-anchor="middle" font-size="27.4">[% in SVC fraction]</text>
<text transform="translate(249.2 940.8) rotate(-45)" text-anchor="end" font-size="27.4">Aged-PBS</text>
<text transform="translate(302.7 940) rotate(-45)" text-anchor="end" font-size="27.4">Aged-yNEU</text>
<line x1="564.1" y1="681.7" x2="564.1" y2="697.5"/>
<line x1="552.1" y1="681.7" x2="576.1" y2="681.7"/>
<rect x="543.8" y="697.5" width="40.5" height="210.6" fill="#a6a6a6"/>
<line x1="626.7" y1="704.7" x2="626.7" y2="720.5"/>
<line x1="614.7" y1="704.7" x2="638.7" y2="704.7"/>
<rect x="606.4" y="720.5" width="40.5" height="187.6" fill="#fdc086"/>
<path d="M532.6 590.3V910"/>
<line x1="521.2" y1="908.1" x2="657.4" y2="908.1"/>
<line x1="521.2" y1="592.1" x2="532.6" y2="592.1"/>
<text x="516.2" y="600.5" text-anchor="end" font-size="23.5">100</text>
<line x1="521.2" y1="654.9" x2="532.6" y2="654.9"/>
<text x="516.2" y="663.4" text-anchor="end" font-size="23.5">80</text>
<line x1="521.2" y1="718.7" x2="532.6" y2="718.7"/>
<text x="516.2" y="727.1" text-anchor="end" font-size="23.5">60</text>
<line x1="521.2" y1="781.8" x2="532.6" y2="781.8"/>
<text x="516.2" y="790.2" text-anchor="end" font-size="23.5">40</text>
<line x1="521.2" y1="844.8" x2="532.6" y2="844.8"/>
<text x="516.2" y="853.2" text-anchor="end" font-size="23.5">20</text>
<text x="518.9" y="916.5" text-anchor="end" font-size="23.5">0</text>
<line x1="564.1" y1="908.1" x2="564.1" y2="919.5"/>
<line x1="626.7" y1="908.1" x2="626.7" y2="919.5"/>
<circle cx="552.9" cy="649.8" r="3.9" fill="#000" stroke="none"/>
<circle cx="575" cy="653.1" r="3.9" fill="#000" stroke="none"/>
<circle cx="564.1" cy="667" r="3.9" fill="#000" stroke="none"/>
<circle cx="575" cy="695" r="3.9" fill="#000" stroke="none"/>
<circle cx="552.9" cy="704.3" r="3.9" fill="#000" stroke="none"/>
<circle cx="564.1" cy="708" r="3.9" fill="#000" stroke="none"/>
<circle cx="573.6" cy="740.3" r="3.9" fill="#000" stroke="none"/>
<circle cx="554.8" cy="748.5" r="3.9" fill="#000" stroke="none"/>
<circle cx="616.9" cy="661" r="3.9" fill="#000" stroke="none"/>
<circle cx="636" cy="665.4" r="3.9" fill="#000" stroke="none"/>
<circle cx="626.7" cy="687.7" r="3.9" fill="#000" stroke="none"/>
<circle cx="616.9" cy="717.5" r="3.9" fill="#000" stroke="none"/>
<circle cx="645.3" cy="720.1" r="3.9" fill="#000" stroke="none"/>
<circle cx="636" cy="727.5" r="3.9" fill="#000" stroke="none"/>
<circle cx="616.9" cy="742.7" r="3.9" fill="#000" stroke="none"/>
<circle cx="626.7" cy="762.7" r="3.9" fill="#000" stroke="none"/>
<circle cx="626.7" cy="785.7" r="3.9" fill="#000" stroke="none"/>
<path d="M565.5 625.1V597.7H626.7V625.1" stroke-linecap="round"/>
<text x="598.3" y="589.1" text-anchor="middle" font-size="23.5">ns</text>
<text transform="translate(420.7 735) rotate(-90)" text-anchor="middle" font-size="27.4">Macrophages</text>
<text transform="translate(454.5 735) rotate(-90)" text-anchor="middle" font-size="27.4">[% in SVC fraction]</text>
<text transform="translate(581.3 940.3) rotate(-45)" text-anchor="end" font-size="27.4">Aged-PBS</text>
<text transform="translate(635.8 939.5) rotate(-45)" text-anchor="end" font-size="27.4">Aged-yNEU</text>
<line x1="933.4" y1="818.3" x2="933.4" y2="838.8"/>
<line x1="921.4" y1="818.3" x2="945.4" y2="818.3"/>
<rect x="913.6" y="838.8" width="39.6" height="68.7" fill="#a6a6a6"/>
<line x1="995.1" y1="798.3" x2="995.1" y2="822.9"/>
<line x1="983.1" y1="798.3" x2="1007.1" y2="798.3"/>
<rect x="975.2" y="822.9" width="39.8" height="84.5" fill="#fdc086"/>
<path d="M903.6 593.1V909.3"/>
<line x1="891.9" y1="907.4" x2="1025.7" y2="907.4"/>
<line x1="891.9" y1="594.9" x2="903.6" y2="594.9"/>
<text x="886.9" y="603.3" text-anchor="end" font-size="23.5">1.5</text>
<line x1="891.9" y1="699.2" x2="903.6" y2="699.2"/>
<text x="886.9" y="707.6" text-anchor="end" font-size="23.5">1.0</text>
<line x1="891.9" y1="803.2" x2="903.6" y2="803.2"/>
<text x="886.9" y="811.6" text-anchor="end" font-size="23.5">0.5</text>
<text x="886.9" y="915.8" text-anchor="end" font-size="23.5">0.0</text>
<line x1="932.7" y1="907.4" x2="932.7" y2="918.8"/>
<line x1="995.3" y1="907.4" x2="995.3" y2="918.8"/>
<circle cx="933.8" cy="734.8" r="3.9" fill="#000" stroke="none"/>
<circle cx="924.1" cy="809.7" r="3.9" fill="#000" stroke="none"/>
<circle cx="942.9" cy="807.1" r="3.9" fill="#000" stroke="none"/>
<circle cx="924.1" cy="836.4" r="3.9" fill="#000" stroke="none"/>
<circle cx="942.9" cy="854.4" r="3.9" fill="#000" stroke="none"/>
<circle cx="922.7" cy="880.4" r="3.9" fill="#000" stroke="none"/>
<circle cx="944.3" cy="887.4" r="3.9" fill="#000" stroke="none"/>
<circle cx="933.6" cy="889.7" r="3.9" fill="#000" stroke="none"/>
<circle cx="995.3" cy="686.1" r="3.9" fill="#000" stroke="none"/>
<circle cx="995.3" cy="764.8" r="3.9" fill="#000" stroke="none"/>
<circle cx="1004.6" cy="785" r="3.9" fill="#000" stroke="none"/>
<circle cx="986" cy="800.6" r="3.9" fill="#000" stroke="none"/>
<circle cx="1006" cy="855.3" r="3.9" fill="#000" stroke="none"/>
<circle cx="984.3" cy="864.1" r="3.9" fill="#000" stroke="none"/>
<circle cx="995.3" cy="867.2" r="3.9" fill="#000" stroke="none"/>
<circle cx="1004.6" cy="882" r="3.9" fill="#000" stroke="none"/>
<circle cx="986" cy="888.6" r="3.9" fill="#000" stroke="none"/>
<path d="M938 625.1V597.7H998.3V625.1" stroke-linecap="round"/>
<text x="970.4" y="589.1" text-anchor="middle" font-size="23.5">ns</text>
<text transform="translate(787.7 751.7) rotate(-90)" text-anchor="middle" font-size="27.4">Eosinophils / Macrophages</text>
<text transform="translate(821.4 749.6) rotate(-90)" text-anchor="middle" font-size="27.4">[ratio]</text>
<text transform="translate(954.7 941.2) rotate(-45)" text-anchor="end" font-size="27.4">Aged-PBS</text>
<text transform="translate(1009.9 939.6) rotate(-45)" text-anchor="end" font-size="27.4">Aged-yNEU</text>
<line x1="238.3" y1="1347.1" x2="238.3" y2="1369.7"/>
<line x1="226.3" y1="1347.1" x2="250.3" y2="1347.1"/>
<rect x="218.2" y="1369.7" width="40" height="116.8" fill="#a6a6a6"/>
<line x1="298.9" y1="1345.2" x2="298.9" y2="1364.1"/>
<line x1="286.9" y1="1345.2" x2="310.9" y2="1345.2"/>
<rect x="279" y="1364.1" width="39.8" height="122.4" fill="#fdc086"/>
<path d="M208 1178.9V1488.3"/>
<line x1="196.4" y1="1486.5" x2="328.5" y2="1486.5"/>
<line x1="196.4" y1="1180.7" x2="208" y2="1180.7"/>
<text x="191.4" y="1189.1" text-anchor="end" font-size="23.5">2.5</text>
<line x1="196.4" y1="1242.2" x2="208" y2="1242.2"/>
<text x="191.4" y="1250.6" text-anchor="end" font-size="23.5">2.0</text>
<line x1="196.4" y1="1303.4" x2="208" y2="1303.4"/>
<text x="191.4" y="1311.8" text-anchor="end" font-size="23.5">1.5</text>
<line x1="196.4" y1="1364.3" x2="208" y2="1364.3"/>
<text x="191.4" y="1372.7" text-anchor="end" font-size="23.5">1.0</text>
<line x1="196.4" y1="1425.5" x2="208" y2="1425.5"/>
<text x="191.4" y="1433.9" text-anchor="end" font-size="23.5">0.5</text>
<text x="191.4" y="1494.9" text-anchor="end" font-size="23.5">0.0</text>
<line x1="238.3" y1="1486.5" x2="238.3" y2="1497.7"/>
<line x1="299" y1="1486.5" x2="299" y2="1497.7"/>
<circle cx="238.3" cy="1240.8" r="3.9" fill="#000" stroke="none"/>
<circle cx="227.6" cy="1363.9" r="3.9" fill="#000" stroke="none"/>
<circle cx="248.7" cy="1363.9" r="3.9" fill="#000" stroke="none"/>
<circle cx="238.3" cy="1352.2" r="3.9" fill="#000" stroke="none"/>
<circle cx="238.3" cy="1372" r="3.9" fill="#000" stroke="none"/>
<circle cx="227.6" cy="1412" r="3.9" fill="#000" stroke="none"/>
<circle cx="248.7" cy="1419.9" r="3.9" fill="#000" stroke="none"/>
<circle cx="238.3" cy="1426.2" r="3.9" fill="#000" stroke="none"/>
<circle cx="308.1" cy="1278" r="3.9" fill="#000" stroke="none"/>
<circle cx="289.4" cy="1293.6" r="3.9" fill="#000" stroke="none"/>
<circle cx="289.4" cy="1370.4" r="3.9" fill="#000" stroke="none"/>
<circle cx="308.1" cy="1367.8" r="3.9" fill="#000" stroke="none"/>
<circle cx="309.5" cy="1383.6" r="3.9" fill="#000" stroke="none"/>
<circle cx="288.1" cy="1393.9" r="3.9" fill="#000" stroke="none"/>
<circle cx="298.8" cy="1399.5" r="3.9" fill="#000" stroke="none"/>
<circle cx="298.8" cy="1433" r="3.9" fill="#000" stroke="none"/>
<path d="M244.1 1192V1178.4H303.6V1192" stroke-linecap="round"/>
<text x="275.7" y="1164.2" text-anchor="middle" font-size="23.5">ns</text>
<text transform="translate(101.7 1332.9) rotate(-90)" text-anchor="middle" font-size="27.4"><tspan font-style="italic">Tnfa</tspan> n-fold expression</text>
<text transform="translate(134.9 1330.8) rotate(-90)" text-anchor="middle" font-size="27.4">[normalized to β-actin]</text>
<text transform="translate(250.9 1515.6) rotate(-45)" text-anchor="end" font-size="27.4">Aged-PBS</text>
<text transform="translate(305.9 1515.1) rotate(-45)" text-anchor="end" font-size="27.4">Aged-yNEU</text>
<line x1="563.6" y1="1383.2" x2="563.6" y2="1407.8"/>
<line x1="551.6" y1="1383.2" x2="575.6" y2="1383.2"/>
<rect x="543.8" y="1407.8" width="39.6" height="79.4" fill="#a6a6a6"/>
<line x1="623.7" y1="1342.2" x2="623.7" y2="1372.7"/>
<line x1="611.7" y1="1342.2" x2="635.7" y2="1342.2"/>
<rect x="603.6" y="1372.7" width="40.3" height="114.5" fill="#fdc086"/>
<path d="M533.1 1179.3V1489"/>
<line x1="521.9" y1="1487.2" x2="653.4" y2="1487.2"/>
<line x1="521.9" y1="1181.2" x2="533.1" y2="1181.2"/>
<text x="519.6" y="1189.6" text-anchor="end" font-size="23.5">6</text>
<line x1="521.9" y1="1283.6" x2="533.1" y2="1283.6"/>
<text x="519.6" y="1292" text-anchor="end" font-size="23.5">4</text>
<line x1="521.9" y1="1385.5" x2="533.1" y2="1385.5"/>
<text x="519.6" y="1393.9" text-anchor="end" font-size="23.5">2</text>
<text x="519.6" y="1495.6" text-anchor="end" font-size="23.5">0</text>
<line x1="563.4" y1="1487.2" x2="563.4" y2="1498.4"/>
<line x1="623.6" y1="1487.2" x2="623.6" y2="1498.4"/>
<circle cx="563.4" cy="1258.2" r="3.9" fill="#000" stroke="none"/>
<circle cx="563.4" cy="1373.6" r="3.9" fill="#000" stroke="none"/>
<circle cx="554.1" cy="1418.3" r="3.9" fill="#000" stroke="none"/>
<circle cx="581.3" cy="1432.5" r="3.9" fill="#000" stroke="none"/>
<circle cx="554.1" cy="1437.2" r="3.9" fill="#000" stroke="none"/>
<circle cx="572.4" cy="1437.2" r="3.9" fill="#000" stroke="none"/>
<circle cx="568" cy="1444.8" r="3.9" fill="#000" stroke="none"/>
<circle cx="558.2" cy="1452.3" r="3.9" fill="#000" stroke="none"/>
<circle cx="623.6" cy="1197" r="3.9" fill="#000" stroke="none"/>
<circle cx="623.6" cy="1250.3" r="3.9" fill="#000" stroke="none"/>
<circle cx="613.9" cy="1392.2" r="3.9" fill="#000" stroke="none"/>
<circle cx="618.5" cy="1398.1" r="3.9" fill="#000" stroke="none"/>
<circle cx="632.9" cy="1396.4" r="3.9" fill="#000" stroke="none"/>
<circle cx="628.7" cy="1405.7" r="3.9" fill="#000" stroke="none"/>
<circle cx="612.7" cy="1429.5" r="3.9" fill="#000" stroke="none"/>
<circle cx="634.3" cy="1433" r="3.9" fill="#000" stroke="none"/>
<circle cx="623.6" cy="1441.1" r="3.9" fill="#000" stroke="none"/>
<path d="M562.2 1184.6V1170.7H622.7V1184.6" stroke-linecap="round"/>
<text x="594.1" y="1160.7" text-anchor="middle" font-size="23.5">ns</text>
<text transform="translate(441.7 1333.4) rotate(-90)" text-anchor="middle" font-size="27.4"><tspan font-style="italic">Il1b</tspan> n-fold expression</text>
<text transform="translate(474.9 1330.8) rotate(-90)" text-anchor="middle" font-size="27.4">[normalized to β-actin]</text>
<text transform="translate(578.2 1515.5) rotate(-45)" text-anchor="end" font-size="27.4">Aged-PBS</text>
<text transform="translate(632.9 1514.7) rotate(-45)" text-anchor="end" font-size="27.4">Aged-yNEU</text>
<line x1="934.9" y1="1347.6" x2="934.9" y2="1372"/>
<line x1="922.9" y1="1347.6" x2="946.9" y2="1347.6"/>
<rect x="914.7" y="1372" width="40.3" height="114.5" fill="#a6a6a6"/>
<line x1="995.1" y1="1347.1" x2="995.1" y2="1378"/>
<line x1="983.1" y1="1347.1" x2="1007.1" y2="1347.1"/>
<rect x="975.2" y="1378" width="39.8" height="108.4" fill="#fdc086"/>
<path d="M904.7 1179.3V1488.3"/>
<line x1="893.6" y1="1486.5" x2="1025" y2="1486.5"/>
<line x1="893.6" y1="1181.2" x2="904.7" y2="1181.2"/>
<text x="891.3" y="1189.6" text-anchor="end" font-size="23.5">4</text>
<line x1="893.6" y1="1257.5" x2="904.7" y2="1257.5"/>
<text x="891.3" y="1265.9" text-anchor="end" font-size="23.5">3</text>
<line x1="893.6" y1="1333.8" x2="904.7" y2="1333.8"/>
<text x="891.3" y="1342.3" text-anchor="end" font-size="23.5">2</text>
<line x1="893.6" y1="1410.4" x2="904.7" y2="1410.4"/>
<text x="891.3" y="1418.8" text-anchor="end" font-size="23.5">1</text>
<text x="891.3" y="1494.9" text-anchor="end" font-size="23.5">0</text>
<line x1="934.8" y1="1486.5" x2="934.8" y2="1497.7"/>
<line x1="995.5" y1="1486.5" x2="995.5" y2="1497.7"/>
<circle cx="934.8" cy="1237.3" r="3.9" fill="#000" stroke="none"/>
<circle cx="934.8" cy="1325.5" r="3.9" fill="#000" stroke="none"/>
<circle cx="934.8" cy="1358" r="3.9" fill="#000" stroke="none"/>
<circle cx="934.8" cy="1385.5" r="3.9" fill="#000" stroke="none"/>
<circle cx="945.5" cy="1394.6" r="3.9" fill="#000" stroke="none"/>
<circle cx="923.8" cy="1410.4" r="3.9" fill="#000" stroke="none"/>
<circle cx="934.8" cy="1410.4" r="3.9" fill="#000" stroke="none"/>
<circle cx="934.8" cy="1444.6" r="3.9" fill="#000" stroke="none"/>
<circle cx="995.5" cy="1212.6" r="3.9" fill="#000" stroke="none"/>
<circle cx="995.5" cy="1308.5" r="3.9" fill="#000" stroke="none"/>
<circle cx="995.5" cy="1346.4" r="3.9" fill="#000" stroke="none"/>
<circle cx="995.5" cy="1392.9" r="3.9" fill="#000" stroke="none"/>
<circle cx="1004.6" cy="1434.4" r="3.9" fill="#000" stroke="none"/>
<circle cx="986" cy="1437.2" r="3.9" fill="#000" stroke="none"/>
<circle cx="999.9" cy="1440.2" r="3.9" fill="#000" stroke="none"/>
<circle cx="989.7" cy="1443.4" r="3.9" fill="#000" stroke="none"/>
<path d="M935.9 1192V1178.4H996.4V1192" stroke-linecap="round"/>
<text x="967.6" y="1168.4" text-anchor="middle" font-size="23.5">ns</text>
<text transform="translate(817.5 1334.3) rotate(-90)" text-anchor="middle" font-size="27.4"><tspan font-style="italic">Il6</tspan> n-fold expression</text>
<text transform="translate(851.2 1330.6) rotate(-90)" text-anchor="middle" font-size="27.4">[normalized to β-actin]</text>
<text transform="translate(949 1515.6) rotate(-45)" text-anchor="end" font-size="27.4">Aged-PBS</text>
<text transform="translate(1004.4 1514.8) rotate(-45)" text-anchor="end" font-size="27.4">Aged-yNEU</text>
<line x1="1379.4" y1="215.5" x2="1379.4" y2="229.2"/>
<line x1="1367.4" y1="215.5" x2="1391.4" y2="215.5"/>
<rect x="1359.4" y="229.2" width="40" height="180.6" fill="#a6a6a6"/>
<line x1="1439.7" y1="198.7" x2="1439.7" y2="213.4"/>
<line x1="1427.7" y1="198.7" x2="1451.7" y2="198.7"/>
<rect x="1419.4" y="213.4" width="40.5" height="196.4" fill="#fdc086"/>
<path d="M1349 101.9V411.6"/>
<line x1="1338" y1="409.8" x2="1470" y2="409.8"/>
<line x1="1338" y1="103.8" x2="1349" y2="103.8"/>
<text x="1333" y="112.2" text-anchor="end" font-size="23.5">200</text>
<line x1="1338" y1="180.1" x2="1349" y2="180.1"/>
<text x="1333" y="188.5" text-anchor="end" font-size="23.5">150</text>
<line x1="1338" y1="256.9" x2="1349" y2="256.9"/>
<text x="1333" y="265.3" text-anchor="end" font-size="23.5">100</text>
<line x1="1338" y1="333.2" x2="1349" y2="333.2"/>
<text x="1333" y="341.6" text-anchor="end" font-size="23.5">50</text>
<text x="1335.7" y="418.2" text-anchor="end" font-size="23.5">0</text>
<line x1="1379.2" y1="409.8" x2="1379.2" y2="420.9"/>
<line x1="1439.7" y1="409.8" x2="1439.7" y2="420.9"/>
<circle cx="1379.2" cy="155.7" r="3.9" fill="#000" stroke="none"/>
<circle cx="1379.2" cy="195.9" r="3.9" fill="#000" stroke="none"/>
<circle cx="1369.9" cy="220.1" r="3.9" fill="#000" stroke="none"/>
<circle cx="1388.5" cy="220.1" r="3.9" fill="#000" stroke="none"/>
<circle cx="1390.1" cy="235.7" r="3.9" fill="#000" stroke="none"/>
<circle cx="1368.3" cy="242.4" r="3.9" fill="#000" stroke="none"/>
<circle cx="1379.2" cy="244.5" r="3.9" fill="#000" stroke="none"/>
<circle cx="1388.5" cy="260.4" r="3.9" fill="#000" stroke="none"/>
<circle cx="1370.4" cy="277.1" r="3.9" fill="#000" stroke="none"/>
<circle cx="1439.7" cy="134.7" r="3.9" fill="#000" stroke="none"/>
<circle cx="1431.6" cy="198.2" r="3.9" fill="#000" stroke="none"/>
<circle cx="1447.8" cy="202.2" r="3.9" fill="#000" stroke="none"/>
<circle cx="1435.7" cy="202.2" r="3.9" fill="#000" stroke="none"/>
<circle cx="1443.9" cy="203.4" r="3.9" fill="#000" stroke="none"/>
<circle cx="1449" cy="216.6" r="3.9" fill="#000" stroke="none"/>
<circle cx="1430.4" cy="224.8" r="3.9" fill="#000" stroke="none"/>
<circle cx="1439.7" cy="245.9" r="3.9" fill="#000" stroke="none"/>
<circle cx="1439.7" cy="273.6" r="3.9" fill="#000" stroke="none"/>
<path d="M1379.7 121.6V107.5H1440.2V121.6" stroke-linecap="round"/>
<text x="1411.8" y="105.4" text-anchor="middle" font-size="23.5">ns</text>
<text transform="translate(1230.3 240.6) rotate(-90)" text-anchor="middle" font-size="27.4">Average time on wheel</text>
<text transform="translate(1264 240.1) rotate(-90)" text-anchor="middle" font-size="27.4">[sec]</text>
<text transform="translate(1393.7 439.2) rotate(-45)" text-anchor="end" font-size="27.4">Aged-PBS</text>
<text transform="translate(1448.7 438.4) rotate(-45)" text-anchor="end" font-size="27.4">Aged-yNEU</text>
<line x1="1672.3" y1="238.7" x2="1672.3" y2="254.1"/>
<line x1="1660.3" y1="238.7" x2="1684.3" y2="238.7"/>
<rect x="1652.4" y="254.1" width="39.8" height="155.2" fill="#a6a6a6"/>
<line x1="1732.5" y1="223.8" x2="1732.5" y2="255.2"/>
<line x1="1720.5" y1="223.8" x2="1744.5" y2="223.8"/>
<rect x="1712.7" y="255.2" width="39.6" height="154.1" fill="#fdc086"/>
<path d="M1642.9 101.9V411.1"/>
<line x1="1633.3" y1="409.3" x2="1762.7" y2="409.3"/>
<line x1="1633.3" y1="103.8" x2="1642.9" y2="103.8"/>
<text x="1630.8" y="112.2" text-anchor="end" font-size="23.5">20</text>
<line x1="1633.3" y1="180.6" x2="1642.9" y2="180.6"/>
<text x="1630.8" y="189" text-anchor="end" font-size="23.5">15</text>
<line x1="1633.3" y1="256.4" x2="1642.9" y2="256.4"/>
<text x="1630.8" y="264.8" text-anchor="end" font-size="23.5">10</text>
<line x1="1633.3" y1="333.2" x2="1642.9" y2="333.2"/>
<text x="1631.3" y="341.6" text-anchor="end" font-size="23.5">5</text>
<text x="1631.3" y="417.7" text-anchor="end" font-size="23.5">0</text>
<line x1="1672.2" y1="409.3" x2="1672.2" y2="418.4"/>
<line x1="1732.7" y1="409.3" x2="1732.7" y2="418.4"/>
<circle cx="1672.2" cy="227.1" r="3.9" fill="#000" stroke="none"/>
<circle cx="1663.1" cy="246.4" r="3.9" fill="#000" stroke="none"/>
<circle cx="1681.3" cy="247.1" r="3.9" fill="#000" stroke="none"/>
<circle cx="1672.2" cy="297.6" r="3.9" fill="#000" stroke="none"/>
<circle cx="1732.7" cy="175.9" r="3.9" fill="#000" stroke="none"/>
<circle cx="1732.7" cy="246.9" r="3.9" fill="#000" stroke="none"/>
<circle cx="1732.7" cy="277.4" r="3.9" fill="#000" stroke="none"/>
<circle cx="1732.7" cy="321.6" r="3.9" fill="#000" stroke="none"/>
<path d="M1675.9 138.6V124.7H1736V138.6" stroke-linecap="round"/>
<text x="1707.3" y="110.3" text-anchor="middle" font-size="23.5">ns</text>
<text transform="translate(1534 244.3) rotate(-90)" text-anchor="middle" font-size="27.4">LSK</text>
<text transform="translate(1567.3 246.9) rotate(-90)" text-anchor="middle" font-size="27.4">[cells per mouse X 10<tspan dy="-10" font-size="16.5">4</tspan><tspan dy="10">]</tspan></text>
<text transform="translate(1682.3 440.3) rotate(-45)" text-anchor="end" font-size="26.9">Aged-PBS</text>
<text transform="translate(1746.6 437.9) rotate(-45)" text-anchor="end" font-size="26.9">Aged-yNEU</text>
<line x1="1375.5" y1="768.3" x2="1375.5" y2="778.5"/>
<line x1="1363.5" y1="768.3" x2="1387.5" y2="768.3"/>
<rect x="1355.4" y="778.5" width="40" height="145.7" fill="#a6a6a6"/>
<line x1="1435.8" y1="724" x2="1435.8" y2="764.5"/>
<line x1="1423.8" y1="724" x2="1447.8" y2="724"/>
<rect x="1415.9" y="764.5" width="39.8" height="159.6" fill="#fdc086"/>
<path d="M1346.1 617.5V926"/>
<line x1="1336.4" y1="924.2" x2="1466" y2="924.2"/>
<line x1="1336.4" y1="619.3" x2="1346.1" y2="619.3"/>
<text x="1334.4" y="627.7" text-anchor="end" font-size="23.5">8</text>
<line x1="1336.4" y1="695.7" x2="1346.1" y2="695.7"/>
<text x="1334.4" y="704.1" text-anchor="end" font-size="23.5">6</text>
<line x1="1336.4" y1="772" x2="1346.1" y2="772"/>
<text x="1334.4" y="780.4" text-anchor="end" font-size="23.5">4</text>
<line x1="1336.4" y1="848.1" x2="1346.1" y2="848.1"/>
<text x="1334.4" y="856.5" text-anchor="end" font-size="23.5">2</text>
<text x="1334.4" y="932.6" text-anchor="end" font-size="23.5">0</text>
<line x1="1375.7" y1="924.2" x2="1375.7" y2="933.2"/>
<line x1="1435.7" y1="924.2" x2="1435.7" y2="933.2"/>
<circle cx="1386.2" cy="760.1" r="3.9" fill="#000" stroke="none"/>
<circle cx="1364.7" cy="769.4" r="3.9" fill="#000" stroke="none"/>
<circle cx="1375.7" cy="809" r="3.9" fill="#000" stroke="none"/>
<circle cx="1435.7" cy="647.5" r="3.9" fill="#000" stroke="none"/>
<circle cx="1426.4" cy="783.6" r="3.9" fill="#000" stroke="none"/>
<circle cx="1444.8" cy="796.9" r="3.9" fill="#000" stroke="none"/>
<circle cx="1435.7" cy="831.1" r="3.9" fill="#000" stroke="none"/>
<path d="M1376.1 632.5V618.4H1436.2V632.5" stroke-linecap="round"/>
<text x="1407.8" y="604.4" text-anchor="middle" font-size="23.5">ns</text>
<text transform="translate(1238.4 760.3) rotate(-90)" text-anchor="middle" font-size="27.4">CMP</text>
<text transform="translate(1271.7 762.9) rotate(-90)" text-anchor="middle" font-size="27.4">[cells per mouse X 10<tspan dy="-10" font-size="16.5">5</tspan><tspan dy="10">]</tspan></text>
<text transform="translate(1386.5 956.4) rotate(-45)" text-anchor="end" font-size="26.9">Aged-PBS</text>
<text transform="translate(1450.3 953.6) rotate(-45)" text-anchor="end" font-size="26.9">Aged-yNEU</text>
<line x1="1672.4" y1="768.3" x2="1672.4" y2="774.3"/>
<line x1="1660.4" y1="768.3" x2="1684.4" y2="768.3"/>
<rect x="1652.4" y="774.3" width="40" height="149.9" fill="#a6a6a6"/>
<line x1="1732.7" y1="723.6" x2="1732.7" y2="752.2"/>
<line x1="1720.7" y1="723.6" x2="1744.7" y2="723.6"/>
<rect x="1713.1" y="752.2" width="39.1" height="172" fill="#fdc086"/>
<path d="M1643.6 617.5V926"/>
<line x1="1633.6" y1="924.2" x2="1762.9" y2="924.2"/>
<line x1="1633.6" y1="619.3" x2="1643.6" y2="619.3"/>
<text x="1631.1" y="627.7" text-anchor="end" font-size="23.5">20</text>
<line x1="1633.6" y1="695.7" x2="1643.6" y2="695.7"/>
<text x="1631.1" y="704.1" text-anchor="end" font-size="23.5">15</text>
<line x1="1633.6" y1="772" x2="1643.6" y2="772"/>
<text x="1631.1" y="780.4" text-anchor="end" font-size="23.5">10</text>
<line x1="1633.6" y1="848.1" x2="1643.6" y2="848.1"/>
<text x="1631.6" y="856.5" text-anchor="end" font-size="23.5">5</text>
<text x="1631.6" y="932.6" text-anchor="end" font-size="23.5">0</text>
<line x1="1672.2" y1="924.2" x2="1672.2" y2="933.2"/>
<line x1="1732.7" y1="924.2" x2="1732.7" y2="933.2"/>
<circle cx="1663.4" cy="763.8" r="3.9" fill="#000" stroke="none"/>
<circle cx="1690.8" cy="768.3" r="3.9" fill="#000" stroke="none"/>
<circle cx="1681.5" cy="777.8" r="3.9" fill="#000" stroke="none"/>
<circle cx="1663.4" cy="789.4" r="3.9" fill="#000" stroke="none"/>
<circle cx="1723.4" cy="703.8" r="3.9" fill="#000" stroke="none"/>
<circle cx="1741.5" cy="703.8" r="3.9" fill="#000" stroke="none"/>
<circle cx="1732.7" cy="787.6" r="3.9" fill="#000" stroke="none"/>
<circle cx="1732.7" cy="814.3" r="3.9" fill="#000" stroke="none"/>
<path d="M1667.1 654.8V640.5H1727.3V654.8" stroke-linecap="round"/>
<text x="1699" y="626.5" text-anchor="middle" font-size="23.5">ns</text>
<text transform="translate(1550 760.8) rotate(-90)" text-anchor="middle" font-size="27.4">CLP</text>
<text transform="translate(1583.3 762.9) rotate(-90)" text-anchor="middle" font-size="27.4">[cells per mouse X 10<tspan dy="-10" font-size="16.5">3</tspan><tspan dy="10">]</tspan></text>
<text transform="translate(1682.6 955.7) rotate(-45)" text-anchor="end" font-size="26.9">Aged-PBS</text>
<text transform="translate(1746.9 953.3) rotate(-45)" text-anchor="end" font-size="26.9">Aged-yNEU</text>
<line x1="1967.2" y1="774.8" x2="1967.2" y2="795.2"/>
<line x1="1955.2" y1="774.8" x2="1979.2" y2="774.8"/>
<rect x="1947.3" y="795.2" width="39.8" height="128.9" fill="#a6a6a6"/>
<line x1="2027.5" y1="691.7" x2="2027.5" y2="748.2"/>
<line x1="2015.5" y1="691.7" x2="2039.5" y2="691.7"/>
<rect x="2007.8" y="748.2" width="39.3" height="175.9" fill="#fdc086"/>
<path d="M1937.8 617V926"/>
<line x1="1928" y1="924.2" x2="2057.6" y2="924.2"/>
<line x1="1928" y1="618.9" x2="1937.8" y2="618.9"/>
<text x="1925.5" y="627.3" text-anchor="end" font-size="23.5">4.5</text>
<line x1="1928" y1="680.1" x2="1937.8" y2="680.1"/>
<text x="1925.5" y="688.5" text-anchor="end" font-size="23.5">4.0</text>
<line x1="1928" y1="741.5" x2="1937.8" y2="741.5"/>
<text x="1925.5" y="749.9" text-anchor="end" font-size="23.5">3.5</text>
<line x1="1928" y1="802.2" x2="1937.8" y2="802.2"/>
<text x="1925.5" y="810.6" text-anchor="end" font-size="23.5">3.0</text>
<line x1="1928" y1="863.2" x2="1937.8" y2="863.2"/>
<text x="1925.5" y="871.6" text-anchor="end" font-size="23.5">2.5</text>
<text x="1925.5" y="932.6" text-anchor="end" font-size="23.5">2.0</text>
<line x1="1967.3" y1="924.2" x2="1967.3" y2="933.2"/>
<line x1="2027.6" y1="924.2" x2="2027.6" y2="933.2"/>
<circle cx="1967.3" cy="739.2" r="3.9" fill="#000" stroke="none"/>
<circle cx="1958" cy="800.4" r="3.9" fill="#000" stroke="none"/>
<circle cx="1976.1" cy="811.3" r="3.9" fill="#000" stroke="none"/>
<circle cx="1967.3" cy="832.2" r="3.9" fill="#000" stroke="none"/>
<circle cx="2018" cy="658" r="3.9" fill="#000" stroke="none"/>
<circle cx="2036.6" cy="651.9" r="3.9" fill="#000" stroke="none"/>
<circle cx="2027.6" cy="803.9" r="3.9" fill="#000" stroke="none"/>
<circle cx="2027.6" cy="881.1" r="3.9" fill="#000" stroke="none"/>
<path d="M1968.5 632.5V618.4H2028.5V632.5" stroke-linecap="round"/>
<text x="2000.1" y="604.4" text-anchor="middle" font-size="23.5">ns</text>
<text transform="translate(1831.2 760.3) rotate(-90)" text-anchor="middle" font-size="27.4">GMP</text>
<text transform="translate(1864 763.1) rotate(-90)" text-anchor="middle" font-size="27.4">[cells per mouse x 10<tspan dy="-10" font-size="16.5">5</tspan><tspan dy="10">]</tspan></text>
<text transform="translate(1978.2 955.7) rotate(-45)" text-anchor="end" font-size="26.9">Aged-PBS</text>
<text transform="translate(2042.3 953.3) rotate(-45)" text-anchor="end" font-size="26.9">Aged-yNEU</text>
<line x1="1355.7" y1="1430.6" x2="1355.7" y2="1440.2"/>
<line x1="1343.7" y1="1430.6" x2="1367.7" y2="1430.6"/>
<rect x="1335.7" y="1440.2" width="40" height="62.1" fill="#fff"/>
<line x1="1416.1" y1="1295.2" x2="1416.1" y2="1325"/>
<line x1="1404.1" y1="1295.2" x2="1428.1" y2="1295.2"/>
<rect x="1396.2" y="1325" width="39.8" height="177.3" fill="#a6a6a6"/>
<line x1="1476.6" y1="1324.3" x2="1476.6" y2="1353.4"/>
<line x1="1464.6" y1="1324.3" x2="1488.6" y2="1324.3"/>
<rect x="1456.7" y="1353.4" width="39.8" height="148.9" fill="#fdc086"/>
<path d="M1326.4 1194.9V1504.2"/>
<line x1="1315.2" y1="1502.3" x2="1506.5" y2="1502.3"/>
<line x1="1315.2" y1="1196.8" x2="1326.4" y2="1196.8"/>
<text x="1308.2" y="1205.2" text-anchor="end" font-size="23.5">20</text>
<line x1="1315.2" y1="1273.1" x2="1326.4" y2="1273.1"/>
<text x="1308.2" y="1281.5" text-anchor="end" font-size="23.5">15</text>
<line x1="1315.2" y1="1349.4" x2="1326.4" y2="1349.4"/>
<text x="1308.2" y="1357.8" text-anchor="end" font-size="23.5">10</text>
<line x1="1315.2" y1="1426" x2="1326.4" y2="1426"/>
<text x="1310.9" y="1434.4" text-anchor="end" font-size="23.5">5</text>
<text x="1310.9" y="1510.7" text-anchor="end" font-size="23.5">0</text>
<line x1="1355.9" y1="1502.3" x2="1355.9" y2="1513.5"/>
<line x1="1416.4" y1="1502.3" x2="1416.4" y2="1513.5"/>
<line x1="1476.5" y1="1502.3" x2="1476.5" y2="1513.5"/>
<circle cx="1355.9" cy="1406.2" r="3.9" fill="#000" stroke="none"/>
<circle cx="1355.9" cy="1434.8" r="3.9" fill="#000" stroke="none"/>
<circle cx="1345" cy="1449.3" r="3.9" fill="#000" stroke="none"/>
<circle cx="1355.9" cy="1455.8" r="3.9" fill="#000" stroke="none"/>
<circle cx="1366.9" cy="1455.3" r="3.9" fill="#000" stroke="none"/>
<circle cx="1425.7" cy="1273.1" r="3.9" fill="#000" stroke="none"/>
<circle cx="1406.7" cy="1285.4" r="3.9" fill="#000" stroke="none"/>
<circle cx="1416.4" cy="1339.4" r="3.9" fill="#000" stroke="none"/>
<circle cx="1416.4" cy="1404.6" r="3.9" fill="#000" stroke="none"/>
<circle cx="1467.2" cy="1283.6" r="3.9" fill="#000" stroke="none"/>
<circle cx="1485.5" cy="1293.4" r="3.9" fill="#000" stroke="none"/>
<circle cx="1476.5" cy="1367.3" r="3.9" fill="#000" stroke="none"/>
<circle cx="1476.5" cy="1393.6" r="3.9" fill="#000" stroke="none"/>
<circle cx="1476.5" cy="1429" r="3.9" fill="#000" stroke="none"/>
<path d="M1355.9 1388V1241.7H1412.9V1255.6" stroke-linecap="round"/>
<path d="M1422.7 1255.6V1241.7H1480.4V1255.6" stroke-linecap="round"/>
<text x="1385.7" y="1245.9" text-anchor="middle" font-size="36">*</text>
<text x="1449" y="1233.1" text-anchor="middle" font-size="23.5" style="font-style:italic">ns</text>
<text transform="translate(1231 1350.4) rotate(-90) scale(0.910 1)" text-anchor="middle" font-size="27.4">Neutrophils in eWAT</text>
<text transform="translate(1264 1350.6) rotate(-90) scale(0.910 1)" text-anchor="middle" font-size="27.4">[% of CD45<tspan dy="-10" font-size="16.5">+</tspan><tspan dy="10"> SVC]</tspan></text>
<text transform="translate(1363.9 1536.3) rotate(-45)" text-anchor="end" font-size="27.4">Young</text>
<text transform="translate(1427.7 1532.8) rotate(-45)" text-anchor="end" font-size="27.4">Aged-PBS</text>
<text transform="translate(1483.7 1534.5) rotate(-45)" text-anchor="end" font-size="27.4">Aged-yNEU</text>
<line x1="1214.3" y1="1969.2" x2="1214.3" y2="1991.6"/>
<line x1="1202.3" y1="1969.2" x2="1226.3" y2="1969.2"/>
<rect x="1194" y="1991.6" width="40.5" height="127.8" fill="#a6a6a6"/>
<line x1="1275.5" y1="1858.9" x2="1275.5" y2="1884.5"/>
<line x1="1263.5" y1="1858.9" x2="1287.5" y2="1858.9"/>
<rect x="1255.2" y="1884.5" width="40.5" height="234.8" fill="#f5f07f"/>
<path d="M1184.3 1807.5V2121.2"/>
<line x1="1172.9" y1="2119.3" x2="1305.7" y2="2119.3"/>
<line x1="1172.9" y1="1809.4" x2="1184.3" y2="1809.4"/>
<text x="1167.9" y="1817.8" text-anchor="end" font-size="23.5">1.5</text>
<line x1="1172.9" y1="1912.4" x2="1184.3" y2="1912.4"/>
<text x="1167.9" y="1920.9" text-anchor="end" font-size="23.5">1.0</text>
<line x1="1172.9" y1="2016" x2="1184.3" y2="2016"/>
<text x="1167.9" y="2024.4" text-anchor="end" font-size="23.5">0.5</text>
<text x="1167.9" y="2127.7" text-anchor="end" font-size="23.5">0.0</text>
<circle cx="1224.1" cy="1933.9" r="3.9" fill="#000" stroke="none"/>
<circle cx="1205.5" cy="1951.3" r="3.9" fill="#000" stroke="none"/>
<circle cx="1214.5" cy="1995.1" r="3.9" fill="#000" stroke="none"/>
<circle cx="1224.1" cy="2030.9" r="3.9" fill="#000" stroke="none"/>
<circle cx="1205.5" cy="2040.9" r="3.9" fill="#000" stroke="none"/>
<circle cx="1266.4" cy="1835.7" r="3.9" fill="#000" stroke="none"/>
<circle cx="1285.3" cy="1848" r="3.9" fill="#000" stroke="none"/>
<circle cx="1285.3" cy="1914.5" r="3.9" fill="#000" stroke="none"/>
<circle cx="1266.4" cy="1932.7" r="3.9" fill="#000" stroke="none"/>
<path d="M1213.1 1880.9V1797.3H1275.3V1820.2" stroke-linecap="round"/>
<text x="1235.2" y="1796.6" text-anchor="middle" font-size="36">*</text>
<text transform="translate(1085.2 1959.2) rotate(-90) scale(0.960 1)" text-anchor="middle" font-size="27.4">Eosinophil/Macrophage</text>
<text transform="translate(1118.4 1963.2) rotate(-90) scale(0.960 1)" text-anchor="middle" font-size="27.4">[ratio]</text>
<line x1="1486.2" y1="1911.1" x2="1486.2" y2="1942.2"/>
<line x1="1474.2" y1="1911.1" x2="1498.2" y2="1911.1"/>
<rect x="1465.4" y="1942.2" width="41.4" height="177.8" fill="#a6a6a6"/>
<line x1="1549.8" y1="2032.3" x2="1549.8" y2="2059"/>
<line x1="1537.8" y1="2032.3" x2="1561.8" y2="2032.3"/>
<rect x="1529.2" y="2059" width="41.2" height="61" fill="#f5f07f"/>
<path d="M1454.7 1797.7V2121.9"/>
<line x1="1443.1" y1="2120" x2="1581.6" y2="2120"/>
<line x1="1443.1" y1="1799.6" x2="1454.7" y2="1799.6"/>
<text x="1438.1" y="1808" text-anchor="end" font-size="23.5">60</text>
<line x1="1443.1" y1="1905.9" x2="1454.7" y2="1905.9"/>
<text x="1438.1" y="1914.3" text-anchor="end" font-size="23.5">40</text>
<line x1="1443.1" y1="2013" x2="1454.7" y2="2013"/>
<text x="1438.1" y="2021.4" text-anchor="end" font-size="23.5">20</text>
<text x="1440.8" y="2128.4" text-anchor="end" font-size="23.5">0</text>
<circle cx="1486.2" cy="1834.3" r="3.9" fill="#000" stroke="none"/>
<circle cx="1486.2" cy="1872.7" r="3.9" fill="#000" stroke="none"/>
<circle cx="1486.2" cy="1948.5" r="3.9" fill="#000" stroke="none"/>
<circle cx="1476.8" cy="1978.8" r="3.9" fill="#000" stroke="none"/>
<circle cx="1495.9" cy="1985" r="3.9" fill="#000" stroke="none"/>
<circle cx="1486.2" cy="2028.6" r="3.9" fill="#000" stroke="none"/>
<circle cx="1549.7" cy="1978.1" r="3.9" fill="#000" stroke="none"/>
<circle cx="1549.7" cy="2020.7" r="3.9" fill="#000" stroke="none"/>
<circle cx="1538.5" cy="2085.8" r="3.9" fill="#000" stroke="none"/>
<circle cx="1561.1" cy="2099.8" r="3.9" fill="#000" stroke="none"/>
<circle cx="1549.7" cy="2104.2" r="3.9" fill="#000" stroke="none"/>
<path d="M1485.5 1814.4V1793.1H1549.4V1943.5" stroke-linecap="round"/>
<text x="1514.1" y="1790.8" text-anchor="middle" font-size="36">*</text>
<text transform="translate(1361.7 1963.4) rotate(-90) scale(0.960 1)" text-anchor="middle" font-size="27.4">IL-6 eWAT concentration</text>
<text transform="translate(1394.9 1963.6) rotate(-90) scale(1.000 1)" text-anchor="middle" font-size="27.4">[pg/25<tspan font-style="italic">μg</tspan> protein]</text>
<path d="M1751.3 1804V2121.9"/>
<line x1="1739.9" y1="2120" x2="1860.2" y2="2120"/>
<line x1="1739.9" y1="1805.9" x2="1751.3" y2="1805.9"/>
<text transform="translate(1738.9 1814.3) scale(1.070 1)" text-anchor="end" font-size="23.5">80</text>
<line x1="1739.9" y1="1884.5" x2="1751.3" y2="1884.5"/>
<text transform="translate(1738.9 1892.9) scale(1.070 1)" text-anchor="end" font-size="23.5">60</text>
<line x1="1739.9" y1="1962.9" x2="1751.3" y2="1962.9"/>
<text transform="translate(1738.9 1971.4) scale(1.070 1)" text-anchor="end" font-size="23.5">40</text>
<line x1="1739.9" y1="2041.6" x2="1751.3" y2="2041.6"/>
<text transform="translate(1738.9 2050) scale(1.070 1)" text-anchor="end" font-size="23.5">20</text>
<text transform="translate(1738.9 2128.4) scale(1.070 1)" text-anchor="end" font-size="23.5">0</text>
<line x1="1778.3" y1="2120" x2="1778.3" y2="2131.6"/>
<line x1="1832.9" y1="2120" x2="1832.9" y2="2131.6"/>
<line x1="1778.3" y1="1990.9" x2="1832.9" y2="2055.3" stroke-width="3.6"/>
<line x1="1778.3" y1="2016" x2="1832.9" y2="2008.8" stroke-width="3.6"/>
<line x1="1778.3" y1="2025.1" x2="1832.9" y2="2096" stroke-width="3.6"/>
<line x1="1778.3" y1="2056" x2="1832.9" y2="2082.8" stroke-width="3.6"/>
<line x1="1778.3" y1="2099.5" x2="1832.9" y2="1981.6" stroke-width="3.6"/>
<line x1="1778.3" y1="2106.7" x2="1832.9" y2="2120" stroke-width="3.6"/>
<circle cx="1778.3" cy="1990.9" r="5.8" fill="#a6a6a6" stroke-width="2"/>
<circle cx="1778.3" cy="2016" r="5.8" fill="#a6a6a6" stroke-width="2"/>
<circle cx="1778.3" cy="2025.1" r="5.8" fill="#a6a6a6" stroke-width="2"/>
<circle cx="1778.3" cy="2056" r="5.8" fill="#a6a6a6" stroke-width="2"/>
<circle cx="1778.3" cy="2106.7" r="5.8" fill="#a6a6a6" stroke-width="2"/>
<circle cx="1778.3" cy="2099.5" r="5.8" fill="#a6a6a6" stroke-width="2"/>
<circle cx="1832.9" cy="1981.6" r="5.8" fill="#a6a6a6" stroke-width="2"/>
<circle cx="1832.9" cy="2008.8" r="5.8" fill="#a6a6a6" stroke-width="2"/>
<circle cx="1832.9" cy="2055.3" r="5.8" fill="#a6a6a6" stroke-width="2"/>
<circle cx="1832.9" cy="2082.8" r="5.8" fill="#a6a6a6" stroke-width="2"/>
<circle cx="1832.9" cy="2096" r="5.8" fill="#a6a6a6" stroke-width="2"/>
<circle cx="1832.9" cy="2120" r="5.8" fill="#a6a6a6" stroke-width="2"/>
<text transform="translate(1652.6 1957.8) rotate(-90) scale(0.960 1)" text-anchor="middle" font-size="27.4">Il6 Plasma</text>
<text transform="translate(1685.7 1957.8) rotate(-90) scale(0.960 1)" text-anchor="middle" font-size="27.4">concentration [pg/ml]</text>
<text transform="translate(1785.7 2150.3) rotate(-45)" text-anchor="end" font-size="27.4">pre</text>
<text transform="translate(1840.3 2150.3) rotate(-45)" text-anchor="end" font-size="27.4">post</text>
<text x="1799" y="1750" text-anchor="middle" font-size="27.4">Aged-PBS</text>
<path d="M2010.6 1804V2121.9"/>
<line x1="1998.9" y1="2120" x2="2119.3" y2="2120"/>
<line x1="1998.9" y1="1805.9" x2="2010.6" y2="1805.9"/>
<text transform="translate(1997.9 1814.3) scale(1.070 1)" text-anchor="end" font-size="23.5">80</text>
<line x1="1998.9" y1="1884.5" x2="2010.6" y2="1884.5"/>
<text transform="translate(1997.9 1892.9) scale(1.070 1)" text-anchor="end" font-size="23.5">60</text>
<line x1="1998.9" y1="1962.9" x2="2010.6" y2="1962.9"/>
<text transform="translate(1997.9 1971.4) scale(1.070 1)" text-anchor="end" font-size="23.5">40</text>
<line x1="1998.9" y1="2041.6" x2="2010.6" y2="2041.6"/>
<text transform="translate(1997.9 2050) scale(1.070 1)" text-anchor="end" font-size="23.5">20</text>
<text transform="translate(1997.9 2128.4) scale(1.070 1)" text-anchor="end" font-size="23.5">0</text>
<line x1="2037.8" y1="2120" x2="2037.8" y2="2131.6"/>
<line x1="2092.5" y1="2120" x2="2092.5" y2="2131.6"/>
<line x1="2037.8" y1="1860.6" x2="2092.5" y2="2040.9" stroke-width="3.6"/>
<line x1="2037.8" y1="1908.7" x2="2092.5" y2="2072.8" stroke-width="3.6"/>
<line x1="2037.8" y1="1920.6" x2="2092.5" y2="2104.9" stroke-width="3.6"/>
<line x1="2037.8" y1="1966" x2="2092.5" y2="2116.5" stroke-width="3.6"/>
<line x1="2037.8" y1="2071.6" x2="2092.5" y2="2120" stroke-width="3.6"/>
<circle cx="2037.8" cy="1860.6" r="5.8" fill="#f5f07f" stroke-width="2"/>
<circle cx="2037.8" cy="1908.7" r="5.8" fill="#f5f07f" stroke-width="2"/>
<circle cx="2037.8" cy="1920.6" r="5.8" fill="#f5f07f" stroke-width="2"/>
<circle cx="2037.8" cy="1966" r="5.8" fill="#f5f07f" stroke-width="2"/>
<circle cx="2037.8" cy="2071.6" r="5.8" fill="#f5f07f" stroke-width="2"/>
<circle cx="2092.5" cy="2040.9" r="5.8" fill="#f5f07f" stroke-width="2"/>
<circle cx="2092.5" cy="2072.8" r="5.8" fill="#f5f07f" stroke-width="2"/>
<circle cx="2092.5" cy="2104.9" r="5.8" fill="#f5f07f" stroke-width="2"/>
<circle cx="2092.5" cy="2116.5" r="5.8" fill="#f5f07f" stroke-width="2"/>
<circle cx="2092.5" cy="2120" r="5.8" fill="#f5f07f" stroke-width="2"/>
<path d="M2037.8 1826V1807.7H2094.4V1826" stroke-linecap="round"/>
<text x="2066.2" y="1804.7" text-anchor="middle" font-size="36">**</text>
<text transform="translate(1901.7 1957.8) rotate(-90) scale(0.960 1)" text-anchor="middle" font-size="27.4">Il6 Plasma</text>
<text transform="translate(1934.7 1957.8) rotate(-90) scale(0.960 1)" text-anchor="middle" font-size="27.4">concentration [pg/ml]</text>
<text transform="translate(2045.2 2150.3) rotate(-45)" text-anchor="end" font-size="27.4">pre</text>
<text transform="translate(2099.9 2150.3) rotate(-45)" text-anchor="end" font-size="27.4">post</text>
<text x="2051.3" y="1750" text-anchor="middle" font-size="27.4">Aged-BMDE</text>
<path d="M179.2 2289.8V2601.9"/>
<line x1="167.5" y1="2600" x2="285.7" y2="2600"/>
<line x1="167.5" y1="2291.7" x2="179.2" y2="2291.7"/>
<text transform="translate(166.5 2300.1) scale(1.070 1)" text-anchor="end" font-size="23.5">120</text>
<line x1="167.5" y1="2368" x2="179.2" y2="2368"/>
<text transform="translate(166.5 2376.4) scale(1.070 1)" text-anchor="end" font-size="23.5">90</text>
<line x1="167.5" y1="2445.3" x2="179.2" y2="2445.3"/>
<text transform="translate(166.5 2453.7) scale(1.070 1)" text-anchor="end" font-size="23.5">60</text>
<line x1="167.5" y1="2522.5" x2="179.2" y2="2522.5"/>
<text transform="translate(166.5 2530.9) scale(1.070 1)" text-anchor="end" font-size="23.5">30</text>
<text transform="translate(166.5 2608.4) scale(1.070 1)" text-anchor="end" font-size="23.5">0</text>
<line x1="205.9" y1="2600" x2="205.9" y2="2611.2"/>
<line x1="259.5" y1="2600" x2="259.5" y2="2611.2"/>
<line x1="205.9" y1="2391.8" x2="259.5" y2="2449.5" stroke-width="3.6"/>
<line x1="205.9" y1="2415" x2="259.5" y2="2466.7" stroke-width="3.6"/>
<line x1="205.9" y1="2419.7" x2="259.5" y2="2424.3" stroke-width="3.6"/>
<line x1="205.9" y1="2444.8" x2="259.5" y2="2434.3" stroke-width="3.6"/>
<line x1="205.9" y1="2490.6" x2="259.5" y2="2491.8" stroke-width="3.6"/>
<line x1="205.9" y1="2513.9" x2="259.5" y2="2491.8" stroke-width="3.6"/>
<circle cx="205.9" cy="2391.8" r="5.8" fill="#a6a6a6" stroke-width="2"/>
<circle cx="205.9" cy="2419.7" r="5.8" fill="#a6a6a6" stroke-width="2"/>
<circle cx="205.9" cy="2413.9" r="5.8" fill="#a6a6a6" stroke-width="2"/>
<circle cx="205.9" cy="2444.8" r="5.8" fill="#a6a6a6" stroke-width="2"/>
<circle cx="205.9" cy="2490.6" r="5.8" fill="#a6a6a6" stroke-width="2"/>
<circle cx="205.9" cy="2513.9" r="5.8" fill="#a6a6a6" stroke-width="2"/>
<circle cx="259.5" cy="2424.3" r="5.8" fill="#a6a6a6" stroke-width="2"/>
<circle cx="259.5" cy="2434.3" r="5.8" fill="#a6a6a6" stroke-width="2"/>
<circle cx="259.5" cy="2449.5" r="5.8" fill="#a6a6a6" stroke-width="2"/>
<circle cx="259.5" cy="2466.7" r="5.8" fill="#a6a6a6" stroke-width="2"/>
<circle cx="259.5" cy="2494.6" r="5.8" fill="#a6a6a6" stroke-width="2"/>
<circle cx="259.5" cy="2490.6" r="5.8" fill="#a6a6a6" stroke-width="2"/>
<path d="M206.6 2311.8V2295.6H259V2311.8" stroke-linecap="round"/>
<text x="235.5" y="2285.9" text-anchor="middle" font-size="25.5" style="font-style:italic">ns</text>
<text transform="translate(105.9 2458.5) rotate(-90) scale(0.967 1)" text-anchor="middle" font-size="27.4">Average Time on wheel [s]</text>
<text transform="translate(213.3 2630.3) rotate(-45)" text-anchor="end" font-size="27.4">pre</text>
<text transform="translate(266.9 2630.3) rotate(-45)" text-anchor="end" font-size="27.4">post</text>
<text x="200.1" y="2224.9" text-anchor="middle" font-size="27.4">Aged-PBS</text>
<path d="M417.1 2288V2600.7"/>
<line x1="405.4" y1="2598.8" x2="523.4" y2="2598.8"/>
<line x1="405.4" y1="2289.8" x2="417.1" y2="2289.8"/>
<text transform="translate(404.4 2298.2) scale(1.070 1)" text-anchor="end" font-size="23.5">120</text>
<line x1="405.4" y1="2366.9" x2="417.1" y2="2366.9"/>
<text transform="translate(404.4 2375.3) scale(1.070 1)" text-anchor="end" font-size="23.5">90</text>
<line x1="405.4" y1="2444.8" x2="417.1" y2="2444.8"/>
<text transform="translate(404.4 2453.2) scale(1.070 1)" text-anchor="end" font-size="23.5">60</text>
<line x1="405.4" y1="2521.6" x2="417.1" y2="2521.6"/>
<text transform="translate(404.4 2530) scale(1.070 1)" text-anchor="end" font-size="23.5">30</text>
<text transform="translate(404.4 2607.3) scale(1.070 1)" text-anchor="end" font-size="23.5">0</text>
<line x1="443.6" y1="2598.8" x2="443.6" y2="2610.5"/>
<line x1="497.1" y1="2598.8" x2="497.1" y2="2610.5"/>
<line x1="443.6" y1="2442.9" x2="497.1" y2="2424.3" stroke-width="3.6"/>
<line x1="443.6" y1="2449.9" x2="497.1" y2="2436" stroke-width="3.6"/>
<line x1="443.6" y1="2460.4" x2="497.1" y2="2451.1" stroke-width="3.6"/>
<line x1="443.6" y1="2516.7" x2="497.1" y2="2351.7" stroke-width="3.6"/>
<line x1="443.6" y1="2562.8" x2="497.1" y2="2475.5" stroke-width="3.6"/>
<circle cx="443.6" cy="2442.9" r="5.8" fill="#f5f07f" stroke-width="2"/>
<circle cx="443.6" cy="2449.9" r="5.8" fill="#f5f07f" stroke-width="2"/>
<circle cx="443.6" cy="2460.4" r="5.8" fill="#f5f07f" stroke-width="2"/>
<circle cx="443.6" cy="2516.7" r="5.8" fill="#f5f07f" stroke-width="2"/>
<circle cx="443.6" cy="2562.8" r="5.8" fill="#f5f07f" stroke-width="2"/>
<circle cx="497.1" cy="2351.7" r="5.8" fill="#f5f07f" stroke-width="2"/>
<circle cx="497.1" cy="2424.3" r="5.8" fill="#f5f07f" stroke-width="2"/>
<circle cx="497.1" cy="2436" r="5.8" fill="#f5f07f" stroke-width="2"/>
<circle cx="497.1" cy="2451.1" r="5.8" fill="#f5f07f" stroke-width="2"/>
<circle cx="497.1" cy="2475.5" r="5.8" fill="#f5f07f" stroke-width="2"/>
<path d="M440.3 2404.4V2295.6H496.2V2314.2" stroke-linecap="round"/>
<text x="471.1" y="2285.9" text-anchor="middle" font-size="24.5" style="font-style:italic">0.0625</text>
<text transform="translate(344.9 2458.5) rotate(-90) scale(0.967 1)" text-anchor="middle" font-size="27.4">Average Time on wheel [s]</text>
<text transform="translate(451 2629.1) rotate(-45)" text-anchor="end" font-size="27.4">pre</text>
<text transform="translate(504.5 2629.1) rotate(-45)" text-anchor="end" font-size="27.4">post</text>
<text x="460.1" y="2224.9" text-anchor="middle" font-size="27.4">Aged-BMDE</text>
<line x1="798.8" y1="2523.9" x2="798.8" y2="2509"/>
<line x1="786.8" y1="2523.9" x2="810.8" y2="2523.9"/>
<rect x="778.9" y="2496.5" width="39.8" height="12.6" fill="#a6a6a6"/>
<line x1="859.1" y1="2408.7" x2="859.1" y2="2440.8"/>
<line x1="847.1" y1="2408.7" x2="871.1" y2="2408.7"/>
<rect x="839.4" y="2440.8" width="39.3" height="55.6" fill="#f5f07f"/>
<path d="M768.9 2291V2600"/>
<line x1="757.8" y1="2598.2" x2="889.2" y2="2598.2"/>
<line x1="757.8" y1="2496.5" x2="889.2" y2="2496.5"/>
<line x1="757.8" y1="2292.9" x2="768.9" y2="2292.9"/>
<text transform="translate(756.8 2301.3) scale(1.070 1)" text-anchor="end" font-size="23.5">80</text>
<line x1="757.8" y1="2343.6" x2="768.9" y2="2343.6"/>
<text transform="translate(756.8 2352) scale(1.070 1)" text-anchor="end" font-size="23.5">60</text>
<line x1="757.8" y1="2394.1" x2="768.9" y2="2394.1"/>
<text transform="translate(756.8 2402.5) scale(1.070 1)" text-anchor="end" font-size="23.5">40</text>
<line x1="757.8" y1="2445.3" x2="768.9" y2="2445.3"/>
<text transform="translate(756.8 2453.7) scale(1.070 1)" text-anchor="end" font-size="23.5">20</text>
<text transform="translate(756.8 2504.9) scale(1.070 1)" text-anchor="end" font-size="23.5">0</text>
<line x1="757.8" y1="2547.2" x2="768.9" y2="2547.2"/>
<text transform="translate(756.8 2555.6) scale(1.070 1)" text-anchor="end" font-size="23.5">-20</text>
<text transform="translate(756.8 2606.6) scale(1.070 1)" text-anchor="end" font-size="23.5">-40</text>
<line x1="801.5" y1="2598.2" x2="801.5" y2="2609.3"/>
<line x1="854.6" y1="2598.2" x2="854.6" y2="2609.3"/>
<circle cx="808" cy="2473.7" r="3.9" fill="#000" stroke="none"/>
<circle cx="780.6" cy="2486" r="3.9" fill="#000" stroke="none"/>
<circle cx="789.9" cy="2498.8" r="3.9" fill="#000" stroke="none"/>
<circle cx="808" cy="2505.1" r="3.9" fill="#000" stroke="none"/>
<circle cx="808" cy="2548.1" r="3.9" fill="#000" stroke="none"/>
<circle cx="789.9" cy="2553.5" r="3.9" fill="#000" stroke="none"/>
<circle cx="859.7" cy="2332.9" r="3.9" fill="#000" stroke="none"/>
<circle cx="859.7" cy="2409.2" r="3.9" fill="#000" stroke="none"/>
<circle cx="848.7" cy="2477.1" r="3.9" fill="#000" stroke="none"/>
<circle cx="870.1" cy="2487.2" r="3.9" fill="#000" stroke="none"/>
<circle cx="859.7" cy="2489.5" r="3.9" fill="#000" stroke="none"/>
<path d="M797.5 2435.2V2290.5H855.7V2313" stroke-linecap="round"/>
<text x="828.3" y="2291.2" text-anchor="middle" font-size="36">*</text>
<text transform="translate(699.8 2440.2) rotate(-90)" text-anchor="middle" font-size="25.6">Δ average time on wheel [s]</text>
<text transform="translate(808.9 2628.5) rotate(-45)" text-anchor="end" font-size="27.4">pre</text>
<text transform="translate(862 2628.5) rotate(-45)" text-anchor="end" font-size="27.4">post</text>
<text x="-1.3" y="30.4" font-size="55">a</text>
<text x="-0.8" y="572.2" font-size="55">b</text>
<text x="-0.6" y="1144.3" font-size="55">c</text>
<text x="1177" y="67.2" font-size="55">d</text>
<text x="1499.9" y="67.2" font-size="55">e</text>
<text x="1190.7" y="604.7" font-size="55">f</text>
<text x="1189.4" y="1145" font-size="55">g</text>
<text x="-4.5" y="1748" font-size="55">h</text>
<text x="1029.2" y="1748.4" font-size="55">i</text>
<text x="1344.4" y="1748.4" font-size="55">j</text>
<text x="1629.7" y="1748.4" font-size="55">k</text>
<text x="-3.5" y="2224.2" font-size="55">l</text>
<text x="643.9" y="2227.7" font-size="55">m</text>
</g>
</svg>
</body>
</html>
